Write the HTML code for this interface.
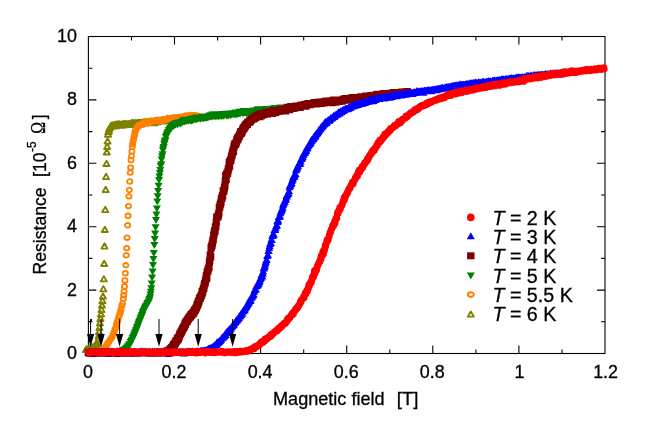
<!DOCTYPE html>
<html><head><meta charset="utf-8"><title>R(B)</title>
<style>html,body{margin:0;padding:0;background:#fff}svg{display:block}</style></head>
<body>
<svg width="651" height="436" viewBox="0 0 651 436" style="will-change:transform">
<rect width="651" height="436" fill="#fff"/>
<g stroke="#000" stroke-width="1.1" fill="none">
<rect x="88.4" y="36.5" width="516.6" height="317"/>
<path d="M131.5 353.5v-4M131.5 36.5v4M174.5 353.5v-8M174.5 36.5v8M217.6 353.5v-4M217.6 36.5v4M260.6 353.5v-8M260.6 36.5v8M303.7 353.5v-4M303.7 36.5v4M346.7 353.5v-8M346.7 36.5v8M389.8 353.5v-4M389.8 36.5v4M432.8 353.5v-8M432.8 36.5v8M475.9 353.5v-4M475.9 36.5v4M518.9 353.5v-8M518.9 36.5v8M562 353.5v-4M562 36.5v4M88.4 321.8h4M605 321.8h-4M88.4 290.1h8M605 290.1h-8M88.4 258.4h4M605 258.4h-4M88.4 226.7h8M605 226.7h-8M88.4 195h4M605 195h-4M88.4 163.3h8M605 163.3h-8M88.4 131.6h4M605 131.6h-4M88.4 99.9h8M605 99.9h-8M88.4 68.2h4M605 68.2h-4"/>
</g>
<path d="M86 346.7l3 5.3h-6.1zM86.4 346.5l3 5.3h-6.1zM86.9 346.4l3 5.3h-6.1zM87.3 346.4l3 5.3h-6.1zM87.7 346.2l3 5.3h-6.1zM88.2 346l3 5.3h-6.1zM88.6 345.6l3 5.3h-6.1zM89 345.8l3 5.3h-6.1zM89.4 345.4l3 5.3h-6.1zM89.9 345.7l3 5.3h-6.1zM90.3 345l3 5.3h-6.1zM90.7 345.1l3 5.3h-6.1zM91.2 345l3 5.3h-6.1zM91.6 344.5l3 5.3h-6.1zM92 345l3 5.3h-6.1zM92.5 344.8l3 5.3h-6.1zM92.9 344.2l3 5.3h-6.1zM93.3 344.3l3 5.3h-6.1zM93.7 344l3 5.3h-6.1zM94.2 343.2l3 5.3h-6.1zM94.6 343.5l3 5.3h-6.1zM95 343.2l3 5.3h-6.1zM95.5 343.1l3 5.3h-6.1zM95.9 342.6l3 5.3h-6.1zM96.3 342.5l3 5.3h-6.1zM96.8 342.2l3 5.3h-6.1zM97.2 342.1l3 5.3h-6.1zM97.5 340.7l3 5.3h-6.1zM98 337.3l3 5.3h-6.1zM98.5 333.3l3 5.3h-6.1zM99 328.9l3 5.3h-6.1zM99.5 324.6l3 5.3h-6.1zM100 320.1l3 5.3h-6.1zM100.5 315.7l3 5.3h-6.1zM101 311.2l3 5.3h-6.1zM101.5 306.8l3 5.3h-6.1zM102 302.4l3 5.3h-6.1zM102.5 297.9l3 5.3h-6.1zM103 293.4l3 5.3h-6.1zM103.4 286.1l3 5.3h-6.1zM103.8 276.1l3 5.3h-6.1zM104.2 260.7l3 5.3h-6.1zM104.5 243.3l3 5.3h-6.1zM104.9 226.7l3 5.3h-6.1zM105.3 206.8l3 5.3h-6.1zM105.7 186.8l3 5.3h-6.1zM106.1 173.8l3 5.3h-6.1zM106.5 160.7l3 5.3h-6.1zM106.8 149.2l3 5.3h-6.1zM107.2 143.7l3 5.3h-6.1zM107.6 138.3l3 5.3h-6.1zM108 131.5l3 5.3h-6.1zM108.4 129l3 5.3h-6.1zM108.8 127.8l3 5.3h-6.1zM109.2 126l3 5.3h-6.1zM109.7 125l3 5.3h-6.1zM110.1 124.4l3 5.3h-6.1zM110.5 124l3 5.3h-6.1zM111 122.8l3 5.3h-6.1zM111.4 123.2l3 5.3h-6.1zM111.8 122.6l3 5.3h-6.1zM112.3 123.3l3 5.3h-6.1zM112.7 122.3l3 5.3h-6.1zM113.1 122.8l3 5.3h-6.1zM113.6 123.2l3 5.3h-6.1zM114 122.2l3 5.3h-6.1zM114.4 121.9l3 5.3h-6.1zM114.8 122.2l3 5.3h-6.1zM115.3 122.1l3 5.3h-6.1zM115.7 121.5l3 5.3h-6.1zM116.1 122.2l3 5.3h-6.1zM116.6 122.9l3 5.3h-6.1zM117 121.7l3 5.3h-6.1zM117.4 121.7l3 5.3h-6.1zM117.9 121.3l3 5.3h-6.1zM118.3 121.9l3 5.3h-6.1zM118.7 121.1l3 5.3h-6.1zM119.2 121.2l3 5.3h-6.1zM119.6 122.3l3 5.3h-6.1zM120 121.2l3 5.3h-6.1zM120.4 122.2l3 5.3h-6.1zM120.9 122.3l3 5.3h-6.1zM121.3 121.7l3 5.3h-6.1zM121.7 121.8l3 5.3h-6.1zM122.2 122.5l3 5.3h-6.1zM122.6 121.4l3 5.3h-6.1zM123 121.2l3 5.3h-6.1zM123.5 120.8l3 5.3h-6.1zM123.9 121.4l3 5.3h-6.1zM124.3 122.1l3 5.3h-6.1zM124.7 121.8l3 5.3h-6.1zM125.2 120.9l3 5.3h-6.1zM125.6 120.9l3 5.3h-6.1zM126 121l3 5.3h-6.1zM126.5 121.4l3 5.3h-6.1zM126.9 121.1l3 5.3h-6.1zM127.3 121.3l3 5.3h-6.1zM127.8 121.3l3 5.3h-6.1zM128.2 121l3 5.3h-6.1zM128.6 121.1l3 5.3h-6.1zM129.1 121.1l3 5.3h-6.1zM129.5 121l3 5.3h-6.1zM129.9 121.2l3 5.3h-6.1zM130.3 121.8l3 5.3h-6.1zM130.8 121.2l3 5.3h-6.1zM131.2 120.9l3 5.3h-6.1zM131.6 120l3 5.3h-6.1zM132.1 121l3 5.3h-6.1zM132.5 119.8l3 5.3h-6.1zM132.9 120l3 5.3h-6.1zM133.4 121.1l3 5.3h-6.1zM133.8 121l3 5.3h-6.1zM134.2 120.6l3 5.3h-6.1zM134.7 119.8l3 5.3h-6.1zM135.1 120.4l3 5.3h-6.1zM135.5 120.2l3 5.3h-6.1zM135.9 120.8l3 5.3h-6.1zM136.4 121.6l3 5.3h-6.1zM136.8 120.5l3 5.3h-6.1zM137.2 120l3 5.3h-6.1zM137.7 119.8l3 5.3h-6.1zM138.1 120.3l3 5.3h-6.1zM138.5 120.2l3 5.3h-6.1zM139 119.7l3 5.3h-6.1zM139.4 120.3l3 5.3h-6.1zM139.8 119.6l3 5.3h-6.1zM140.2 120.7l3 5.3h-6.1zM140.7 120.6l3 5.3h-6.1zM141.1 120.6l3 5.3h-6.1zM141.5 119.8l3 5.3h-6.1zM142 120.3l3 5.3h-6.1zM142.4 119.9l3 5.3h-6.1zM142.8 119.7l3 5.3h-6.1zM143.3 119.7l3 5.3h-6.1zM143.7 119.2l3 5.3h-6.1zM144.1 119.1l3 5.3h-6.1zM144.6 120.2l3 5.3h-6.1zM145 119.6l3 5.3h-6.1zM145.4 119.8l3 5.3h-6.1zM145.8 120.2l3 5.3h-6.1zM146.3 118.8l3 5.3h-6.1zM146.7 119.2l3 5.3h-6.1zM147.1 119.6l3 5.3h-6.1zM147.6 119.7l3 5.3h-6.1zM148 119.3l3 5.3h-6.1zM148.4 119.9l3 5.3h-6.1zM148.9 119.5l3 5.3h-6.1zM149.3 118.7l3 5.3h-6.1zM149.7 118.8l3 5.3h-6.1zM150.2 119.7l3 5.3h-6.1zM150.6 119.4l3 5.3h-6.1zM151 118.2l3 5.3h-6.1zM151.4 119.8l3 5.3h-6.1zM151.9 119.4l3 5.3h-6.1zM152.3 119.7l3 5.3h-6.1zM152.7 118.8l3 5.3h-6.1zM153.2 118.8l3 5.3h-6.1zM153.6 118.4l3 5.3h-6.1zM154 120.1l3 5.3h-6.1zM154.5 118.7l3 5.3h-6.1zM154.9 119.6l3 5.3h-6.1zM155.3 118.4l3 5.3h-6.1zM155.7 118.8l3 5.3h-6.1zM156.2 117.8l3 5.3h-6.1zM156.6 118.4l3 5.3h-6.1zM157 119l3 5.3h-6.1zM157.5 117.9l3 5.3h-6.1zM157.9 119l3 5.3h-6.1zM158.3 118.6l3 5.3h-6.1zM158.8 117.9l3 5.3h-6.1zM159.2 118.1l3 5.3h-6.1zM159.6 118l3 5.3h-6.1zM160.1 118.2l3 5.3h-6.1zM160.5 117.9l3 5.3h-6.1zM160.9 117.7l3 5.3h-6.1zM161.3 117.9l3 5.3h-6.1zM161.8 117.5l3 5.3h-6.1zM162.2 117.4l3 5.3h-6.1zM162.6 117.9l3 5.3h-6.1zM163.1 118.3l3 5.3h-6.1zM163.5 117.1l3 5.3h-6.1zM163.9 117.8l3 5.3h-6.1zM164.4 117.4l3 5.3h-6.1zM164.8 117.2l3 5.3h-6.1zM165.2 118.1l3 5.3h-6.1zM165.7 117.4l3 5.3h-6.1zM166.1 118.3l3 5.3h-6.1zM166.5 117.1l3 5.3h-6.1zM166.9 117.7l3 5.3h-6.1zM167.4 117.3l3 5.3h-6.1zM167.8 117l3 5.3h-6.1zM168.2 117.6l3 5.3h-6.1zM168.7 117.2l3 5.3h-6.1zM169.1 117.5l3 5.3h-6.1zM169.5 117.2l3 5.3h-6.1zM170 116.6l3 5.3h-6.1zM170.4 117.1l3 5.3h-6.1zM170.8 117.1l3 5.3h-6.1zM171.2 117.5l3 5.3h-6.1zM171.7 116.5l3 5.3h-6.1zM172.1 116.9l3 5.3h-6.1zM172.5 116l3 5.3h-6.1zM173 117.2l3 5.3h-6.1zM173.4 116.2l3 5.3h-6.1zM173.8 115.8l3 5.3h-6.1zM174.3 116.7l3 5.3h-6.1zM174.7 117.2l3 5.3h-6.1zM175.1 115.8l3 5.3h-6.1zM175.6 116l3 5.3h-6.1zM176 116.1l3 5.3h-6.1zM176.4 115.9l3 5.3h-6.1zM176.8 116.6l3 5.3h-6.1zM177.3 116l3 5.3h-6.1zM177.7 116l3 5.3h-6.1zM178.1 116.6l3 5.3h-6.1zM178.6 115.8l3 5.3h-6.1zM179 116.4l3 5.3h-6.1zM179.4 115.6l3 5.3h-6.1zM179.9 115.5l3 5.3h-6.1zM180.3 115.1l3 5.3h-6.1zM180.7 116.9l3 5.3h-6.1zM181.1 115.8l3 5.3h-6.1zM181.6 116l3 5.3h-6.1zM182 115.8l3 5.3h-6.1zM182.4 115.9l3 5.3h-6.1zM182.9 115.8l3 5.3h-6.1zM183.3 116.6l3 5.3h-6.1zM183.7 115.1l3 5.3h-6.1zM184.2 114.8l3 5.3h-6.1zM184.6 115.1l3 5.3h-6.1zM185 114.8l3 5.3h-6.1zM185.5 115.8l3 5.3h-6.1zM185.9 115.8l3 5.3h-6.1zM186.3 114.9l3 5.3h-6.1zM186.7 114.6l3 5.3h-6.1zM187.2 115.1l3 5.3h-6.1zM187.6 115.9l3 5.3h-6.1zM188 113.8l3 5.3h-6.1zM188.5 115.4l3 5.3h-6.1zM188.9 114.5l3 5.3h-6.1zM189.3 115.5l3 5.3h-6.1zM189.8 114.4l3 5.3h-6.1zM190.2 114.8l3 5.3h-6.1zM190.6 114.1l3 5.3h-6.1zM191.1 114.3l3 5.3h-6.1zM191.5 115.5l3 5.3h-6.1zM191.9 115.1l3 5.3h-6.1zM192.3 114.5l3 5.3h-6.1zM192.8 114.2l3 5.3h-6.1zM193.2 113.6l3 5.3h-6.1zM193.6 114.3l3 5.3h-6.1zM194.1 114.5l3 5.3h-6.1zM194.5 114.4l3 5.3h-6.1zM194.9 114.3l3 5.3h-6.1zM195.4 113.8l3 5.3h-6.1zM195.8 114.3l3 5.3h-6.1zM196.2 114.2l3 5.3h-6.1zM196.6 114.8l3 5.3h-6.1z" fill="none" stroke="#808000" stroke-width="1.85" stroke-linejoin="round"/>
<path d="M85.8 352.2a2.6 2.3 0 1 0 5.2 0a2.6 2.3 0 1 0 -5.2 0M86.2 352.2a2.6 2.3 0 1 0 5.2 0a2.6 2.3 0 1 0 -5.2 0M86.7 352.1a2.6 2.3 0 1 0 5.2 0a2.6 2.3 0 1 0 -5.2 0M87.1 352.2a2.6 2.3 0 1 0 5.2 0a2.6 2.3 0 1 0 -5.2 0M87.5 352a2.6 2.3 0 1 0 5.2 0a2.6 2.3 0 1 0 -5.2 0M88 352.1a2.6 2.3 0 1 0 5.2 0a2.6 2.3 0 1 0 -5.2 0M88.4 352.5a2.6 2.3 0 1 0 5.2 0a2.6 2.3 0 1 0 -5.2 0M88.8 352.2a2.6 2.3 0 1 0 5.2 0a2.6 2.3 0 1 0 -5.2 0M89.2 352.2a2.6 2.3 0 1 0 5.2 0a2.6 2.3 0 1 0 -5.2 0M89.7 352.3a2.6 2.3 0 1 0 5.2 0a2.6 2.3 0 1 0 -5.2 0M90.1 352.3a2.6 2.3 0 1 0 5.2 0a2.6 2.3 0 1 0 -5.2 0M90.5 352a2.6 2.3 0 1 0 5.2 0a2.6 2.3 0 1 0 -5.2 0M91 352.2a2.6 2.3 0 1 0 5.2 0a2.6 2.3 0 1 0 -5.2 0M91.4 352.3a2.6 2.3 0 1 0 5.2 0a2.6 2.3 0 1 0 -5.2 0M91.8 352.2a2.6 2.3 0 1 0 5.2 0a2.6 2.3 0 1 0 -5.2 0M92.3 352.2a2.6 2.3 0 1 0 5.2 0a2.6 2.3 0 1 0 -5.2 0M92.7 352.4a2.6 2.3 0 1 0 5.2 0a2.6 2.3 0 1 0 -5.2 0M93.1 352.1a2.6 2.3 0 1 0 5.2 0a2.6 2.3 0 1 0 -5.2 0M93.5 352.2a2.6 2.3 0 1 0 5.2 0a2.6 2.3 0 1 0 -5.2 0M94 352.1a2.6 2.3 0 1 0 5.2 0a2.6 2.3 0 1 0 -5.2 0M94.4 352.4a2.6 2.3 0 1 0 5.2 0a2.6 2.3 0 1 0 -5.2 0M94.8 351.9a2.6 2.3 0 1 0 5.2 0a2.6 2.3 0 1 0 -5.2 0M95.3 352.1a2.6 2.3 0 1 0 5.2 0a2.6 2.3 0 1 0 -5.2 0M95.7 352.1a2.6 2.3 0 1 0 5.2 0a2.6 2.3 0 1 0 -5.2 0M96.1 352.2a2.6 2.3 0 1 0 5.2 0a2.6 2.3 0 1 0 -5.2 0M96.6 352.1a2.6 2.3 0 1 0 5.2 0a2.6 2.3 0 1 0 -5.2 0M97 352a2.6 2.3 0 1 0 5.2 0a2.6 2.3 0 1 0 -5.2 0M97.4 351.3a2.6 2.3 0 1 0 5.2 0a2.6 2.3 0 1 0 -5.2 0M97.9 351.4a2.6 2.3 0 1 0 5.2 0a2.6 2.3 0 1 0 -5.2 0M98.3 351a2.6 2.3 0 1 0 5.2 0a2.6 2.3 0 1 0 -5.2 0M98.4 350.8a2.6 2.3 0 1 0 5.2 0a2.6 2.3 0 1 0 -5.2 0M99 350.6a2.6 2.3 0 1 0 5.2 0a2.6 2.3 0 1 0 -5.2 0M99.5 349.9a2.6 2.3 0 1 0 5.2 0a2.6 2.3 0 1 0 -5.2 0M100 349.2a2.6 2.3 0 1 0 5.2 0a2.6 2.3 0 1 0 -5.2 0M100.6 349a2.6 2.3 0 1 0 5.2 0a2.6 2.3 0 1 0 -5.2 0M101.1 348.3a2.6 2.3 0 1 0 5.2 0a2.6 2.3 0 1 0 -5.2 0M101.7 347.9a2.6 2.3 0 1 0 5.2 0a2.6 2.3 0 1 0 -5.2 0M102.2 347.5a2.6 2.3 0 1 0 5.2 0a2.6 2.3 0 1 0 -5.2 0M102.8 346.8a2.6 2.3 0 1 0 5.2 0a2.6 2.3 0 1 0 -5.2 0M103.3 346.4a2.6 2.3 0 1 0 5.2 0a2.6 2.3 0 1 0 -5.2 0M103.9 345.2a2.6 2.3 0 1 0 5.2 0a2.6 2.3 0 1 0 -5.2 0M104.4 344.3a2.6 2.3 0 1 0 5.2 0a2.6 2.3 0 1 0 -5.2 0M105 343.6a2.6 2.3 0 1 0 5.2 0a2.6 2.3 0 1 0 -5.2 0M105.5 342.8a2.6 2.3 0 1 0 5.2 0a2.6 2.3 0 1 0 -5.2 0M106.1 342a2.6 2.3 0 1 0 5.2 0a2.6 2.3 0 1 0 -5.2 0M106.4 341.8a2.6 2.3 0 1 0 5.2 0a2.6 2.3 0 1 0 -5.2 0M107.2 340.5a2.6 2.3 0 1 0 5.2 0a2.6 2.3 0 1 0 -5.2 0M107.9 339a2.6 2.3 0 1 0 5.2 0a2.6 2.3 0 1 0 -5.2 0M108.7 338.2a2.6 2.3 0 1 0 5.2 0a2.6 2.3 0 1 0 -5.2 0M109.4 336.9a2.6 2.3 0 1 0 5.2 0a2.6 2.3 0 1 0 -5.2 0M110.2 335.3a2.6 2.3 0 1 0 5.2 0a2.6 2.3 0 1 0 -5.2 0M110.9 333.5a2.6 2.3 0 1 0 5.2 0a2.6 2.3 0 1 0 -5.2 0M111.7 331.5a2.6 2.3 0 1 0 5.2 0a2.6 2.3 0 1 0 -5.2 0M112.4 329.2a2.6 2.3 0 1 0 5.2 0a2.6 2.3 0 1 0 -5.2 0M113.2 327.2a2.6 2.3 0 1 0 5.2 0a2.6 2.3 0 1 0 -5.2 0M113.9 324.2a2.6 2.3 0 1 0 5.2 0a2.6 2.3 0 1 0 -5.2 0M114.7 321.9a2.6 2.3 0 1 0 5.2 0a2.6 2.3 0 1 0 -5.2 0M115.4 319.8a2.6 2.3 0 1 0 5.2 0a2.6 2.3 0 1 0 -5.2 0M116.2 316.8a2.6 2.3 0 1 0 5.2 0a2.6 2.3 0 1 0 -5.2 0M116.9 315a2.6 2.3 0 1 0 5.2 0a2.6 2.3 0 1 0 -5.2 0M117.7 312.5a2.6 2.3 0 1 0 5.2 0a2.6 2.3 0 1 0 -5.2 0M118.4 309.7a2.6 2.3 0 1 0 5.2 0a2.6 2.3 0 1 0 -5.2 0M119.2 306a2.6 2.3 0 1 0 5.2 0a2.6 2.3 0 1 0 -5.2 0M119.9 303.5a2.6 2.3 0 1 0 5.2 0a2.6 2.3 0 1 0 -5.2 0M120.7 298.7a2.6 2.3 0 1 0 5.2 0a2.6 2.3 0 1 0 -5.2 0M121.1 295.3a2.6 2.3 0 1 0 5.2 0a2.6 2.3 0 1 0 -5.2 0M121.5 291.4a2.6 2.3 0 1 0 5.2 0a2.6 2.3 0 1 0 -5.2 0M121.9 286.5a2.6 2.3 0 1 0 5.2 0a2.6 2.3 0 1 0 -5.2 0M122.3 280.4a2.6 2.3 0 1 0 5.2 0a2.6 2.3 0 1 0 -5.2 0M122.7 273.3a2.6 2.3 0 1 0 5.2 0a2.6 2.3 0 1 0 -5.2 0M123.2 265.3a2.6 2.3 0 1 0 5.2 0a2.6 2.3 0 1 0 -5.2 0M123.6 255.3a2.6 2.3 0 1 0 5.2 0a2.6 2.3 0 1 0 -5.2 0M124.1 248.1a2.6 2.3 0 1 0 5.2 0a2.6 2.3 0 1 0 -5.2 0M124.5 237.7a2.6 2.3 0 1 0 5.2 0a2.6 2.3 0 1 0 -5.2 0M125 225.3a2.6 2.3 0 1 0 5.2 0a2.6 2.3 0 1 0 -5.2 0M125.4 215.8a2.6 2.3 0 1 0 5.2 0a2.6 2.3 0 1 0 -5.2 0M125.8 206.1a2.6 2.3 0 1 0 5.2 0a2.6 2.3 0 1 0 -5.2 0M126.3 196.4a2.6 2.3 0 1 0 5.2 0a2.6 2.3 0 1 0 -5.2 0M126.7 190a2.6 2.3 0 1 0 5.2 0a2.6 2.3 0 1 0 -5.2 0M127.1 181.5a2.6 2.3 0 1 0 5.2 0a2.6 2.3 0 1 0 -5.2 0M127.6 172.6a2.6 2.3 0 1 0 5.2 0a2.6 2.3 0 1 0 -5.2 0M128 167.6a2.6 2.3 0 1 0 5.2 0a2.6 2.3 0 1 0 -5.2 0M128.4 160a2.6 2.3 0 1 0 5.2 0a2.6 2.3 0 1 0 -5.2 0M128.9 156a2.6 2.3 0 1 0 5.2 0a2.6 2.3 0 1 0 -5.2 0M129.3 151.5a2.6 2.3 0 1 0 5.2 0a2.6 2.3 0 1 0 -5.2 0M129.7 146.9a2.6 2.3 0 1 0 5.2 0a2.6 2.3 0 1 0 -5.2 0M130 144a2.6 2.3 0 1 0 5.2 0a2.6 2.3 0 1 0 -5.2 0M130.5 141.1a2.6 2.3 0 1 0 5.2 0a2.6 2.3 0 1 0 -5.2 0M130.9 139.8a2.6 2.3 0 1 0 5.2 0a2.6 2.3 0 1 0 -5.2 0M131.3 137.5a2.6 2.3 0 1 0 5.2 0a2.6 2.3 0 1 0 -5.2 0M131.8 135.4a2.6 2.3 0 1 0 5.2 0a2.6 2.3 0 1 0 -5.2 0M132.2 133.5a2.6 2.3 0 1 0 5.2 0a2.6 2.3 0 1 0 -5.2 0M132.6 131.2a2.6 2.3 0 1 0 5.2 0a2.6 2.3 0 1 0 -5.2 0M133.1 130.2a2.6 2.3 0 1 0 5.2 0a2.6 2.3 0 1 0 -5.2 0M133.5 129.5a2.6 2.3 0 1 0 5.2 0a2.6 2.3 0 1 0 -5.2 0M133.9 128.6a2.6 2.3 0 1 0 5.2 0a2.6 2.3 0 1 0 -5.2 0M134.3 127.7a2.6 2.3 0 1 0 5.2 0a2.6 2.3 0 1 0 -5.2 0M134.8 126.7a2.6 2.3 0 1 0 5.2 0a2.6 2.3 0 1 0 -5.2 0M135.2 126.9a2.6 2.3 0 1 0 5.2 0a2.6 2.3 0 1 0 -5.2 0M135.6 126a2.6 2.3 0 1 0 5.2 0a2.6 2.3 0 1 0 -5.2 0M136.1 125.2a2.6 2.3 0 1 0 5.2 0a2.6 2.3 0 1 0 -5.2 0M136.5 125a2.6 2.3 0 1 0 5.2 0a2.6 2.3 0 1 0 -5.2 0M136.9 125.8a2.6 2.3 0 1 0 5.2 0a2.6 2.3 0 1 0 -5.2 0M137.4 124.9a2.6 2.3 0 1 0 5.2 0a2.6 2.3 0 1 0 -5.2 0M137.8 125.1a2.6 2.3 0 1 0 5.2 0a2.6 2.3 0 1 0 -5.2 0M138.2 124.1a2.6 2.3 0 1 0 5.2 0a2.6 2.3 0 1 0 -5.2 0M138.7 124.6a2.6 2.3 0 1 0 5.2 0a2.6 2.3 0 1 0 -5.2 0M139.1 123.6a2.6 2.3 0 1 0 5.2 0a2.6 2.3 0 1 0 -5.2 0M139.5 123.6a2.6 2.3 0 1 0 5.2 0a2.6 2.3 0 1 0 -5.2 0M139.9 124.8a2.6 2.3 0 1 0 5.2 0a2.6 2.3 0 1 0 -5.2 0M140.4 123.7a2.6 2.3 0 1 0 5.2 0a2.6 2.3 0 1 0 -5.2 0M140.8 122.9a2.6 2.3 0 1 0 5.2 0a2.6 2.3 0 1 0 -5.2 0M141.2 123a2.6 2.3 0 1 0 5.2 0a2.6 2.3 0 1 0 -5.2 0M141.7 123a2.6 2.3 0 1 0 5.2 0a2.6 2.3 0 1 0 -5.2 0M142.1 123.4a2.6 2.3 0 1 0 5.2 0a2.6 2.3 0 1 0 -5.2 0M142.5 122.4a2.6 2.3 0 1 0 5.2 0a2.6 2.3 0 1 0 -5.2 0M143 121.6a2.6 2.3 0 1 0 5.2 0a2.6 2.3 0 1 0 -5.2 0M143.4 122.2a2.6 2.3 0 1 0 5.2 0a2.6 2.3 0 1 0 -5.2 0M143.8 122.3a2.6 2.3 0 1 0 5.2 0a2.6 2.3 0 1 0 -5.2 0M144.2 122.3a2.6 2.3 0 1 0 5.2 0a2.6 2.3 0 1 0 -5.2 0M144.7 122.8a2.6 2.3 0 1 0 5.2 0a2.6 2.3 0 1 0 -5.2 0M145.1 122.2a2.6 2.3 0 1 0 5.2 0a2.6 2.3 0 1 0 -5.2 0M145.5 122.3a2.6 2.3 0 1 0 5.2 0a2.6 2.3 0 1 0 -5.2 0M146 121.3a2.6 2.3 0 1 0 5.2 0a2.6 2.3 0 1 0 -5.2 0M146.4 122.2a2.6 2.3 0 1 0 5.2 0a2.6 2.3 0 1 0 -5.2 0M146.8 122.8a2.6 2.3 0 1 0 5.2 0a2.6 2.3 0 1 0 -5.2 0M147.3 122a2.6 2.3 0 1 0 5.2 0a2.6 2.3 0 1 0 -5.2 0M147.7 121.7a2.6 2.3 0 1 0 5.2 0a2.6 2.3 0 1 0 -5.2 0M148.1 121.6a2.6 2.3 0 1 0 5.2 0a2.6 2.3 0 1 0 -5.2 0M148.6 122.3a2.6 2.3 0 1 0 5.2 0a2.6 2.3 0 1 0 -5.2 0M149 120.9a2.6 2.3 0 1 0 5.2 0a2.6 2.3 0 1 0 -5.2 0M149.4 121.2a2.6 2.3 0 1 0 5.2 0a2.6 2.3 0 1 0 -5.2 0M149.8 121.5a2.6 2.3 0 1 0 5.2 0a2.6 2.3 0 1 0 -5.2 0M150.3 121.5a2.6 2.3 0 1 0 5.2 0a2.6 2.3 0 1 0 -5.2 0M150.7 120.9a2.6 2.3 0 1 0 5.2 0a2.6 2.3 0 1 0 -5.2 0M151.1 121.2a2.6 2.3 0 1 0 5.2 0a2.6 2.3 0 1 0 -5.2 0M151.6 120.8a2.6 2.3 0 1 0 5.2 0a2.6 2.3 0 1 0 -5.2 0M152 121a2.6 2.3 0 1 0 5.2 0a2.6 2.3 0 1 0 -5.2 0M152.4 120.8a2.6 2.3 0 1 0 5.2 0a2.6 2.3 0 1 0 -5.2 0M152.9 120.2a2.6 2.3 0 1 0 5.2 0a2.6 2.3 0 1 0 -5.2 0M153.3 120.8a2.6 2.3 0 1 0 5.2 0a2.6 2.3 0 1 0 -5.2 0M153.7 121.2a2.6 2.3 0 1 0 5.2 0a2.6 2.3 0 1 0 -5.2 0M154.2 120.2a2.6 2.3 0 1 0 5.2 0a2.6 2.3 0 1 0 -5.2 0M154.6 120.5a2.6 2.3 0 1 0 5.2 0a2.6 2.3 0 1 0 -5.2 0M155 120.9a2.6 2.3 0 1 0 5.2 0a2.6 2.3 0 1 0 -5.2 0M155.4 120a2.6 2.3 0 1 0 5.2 0a2.6 2.3 0 1 0 -5.2 0M155.9 120.5a2.6 2.3 0 1 0 5.2 0a2.6 2.3 0 1 0 -5.2 0M156.3 119.8a2.6 2.3 0 1 0 5.2 0a2.6 2.3 0 1 0 -5.2 0M156.7 120.9a2.6 2.3 0 1 0 5.2 0a2.6 2.3 0 1 0 -5.2 0M157.2 121.5a2.6 2.3 0 1 0 5.2 0a2.6 2.3 0 1 0 -5.2 0M157.6 121.3a2.6 2.3 0 1 0 5.2 0a2.6 2.3 0 1 0 -5.2 0M158 120.1a2.6 2.3 0 1 0 5.2 0a2.6 2.3 0 1 0 -5.2 0M158.5 120.5a2.6 2.3 0 1 0 5.2 0a2.6 2.3 0 1 0 -5.2 0M158.9 120.1a2.6 2.3 0 1 0 5.2 0a2.6 2.3 0 1 0 -5.2 0M159.3 120a2.6 2.3 0 1 0 5.2 0a2.6 2.3 0 1 0 -5.2 0M159.7 120.7a2.6 2.3 0 1 0 5.2 0a2.6 2.3 0 1 0 -5.2 0M160.2 119.2a2.6 2.3 0 1 0 5.2 0a2.6 2.3 0 1 0 -5.2 0M160.6 120.3a2.6 2.3 0 1 0 5.2 0a2.6 2.3 0 1 0 -5.2 0M161 119.7a2.6 2.3 0 1 0 5.2 0a2.6 2.3 0 1 0 -5.2 0M161.5 120.4a2.6 2.3 0 1 0 5.2 0a2.6 2.3 0 1 0 -5.2 0M161.9 119.7a2.6 2.3 0 1 0 5.2 0a2.6 2.3 0 1 0 -5.2 0M162.3 119.2a2.6 2.3 0 1 0 5.2 0a2.6 2.3 0 1 0 -5.2 0M162.8 119.6a2.6 2.3 0 1 0 5.2 0a2.6 2.3 0 1 0 -5.2 0M163.2 119.8a2.6 2.3 0 1 0 5.2 0a2.6 2.3 0 1 0 -5.2 0M163.6 119.3a2.6 2.3 0 1 0 5.2 0a2.6 2.3 0 1 0 -5.2 0M164.1 119.5a2.6 2.3 0 1 0 5.2 0a2.6 2.3 0 1 0 -5.2 0M164.5 118.9a2.6 2.3 0 1 0 5.2 0a2.6 2.3 0 1 0 -5.2 0M164.9 118a2.6 2.3 0 1 0 5.2 0a2.6 2.3 0 1 0 -5.2 0M165.3 119.5a2.6 2.3 0 1 0 5.2 0a2.6 2.3 0 1 0 -5.2 0M165.8 119.3a2.6 2.3 0 1 0 5.2 0a2.6 2.3 0 1 0 -5.2 0M166.2 119a2.6 2.3 0 1 0 5.2 0a2.6 2.3 0 1 0 -5.2 0M166.6 118.9a2.6 2.3 0 1 0 5.2 0a2.6 2.3 0 1 0 -5.2 0M167.1 119.3a2.6 2.3 0 1 0 5.2 0a2.6 2.3 0 1 0 -5.2 0M167.5 118.5a2.6 2.3 0 1 0 5.2 0a2.6 2.3 0 1 0 -5.2 0M167.9 118.3a2.6 2.3 0 1 0 5.2 0a2.6 2.3 0 1 0 -5.2 0M168.4 118.5a2.6 2.3 0 1 0 5.2 0a2.6 2.3 0 1 0 -5.2 0M168.8 119.1a2.6 2.3 0 1 0 5.2 0a2.6 2.3 0 1 0 -5.2 0M169.2 117.7a2.6 2.3 0 1 0 5.2 0a2.6 2.3 0 1 0 -5.2 0M169.7 119a2.6 2.3 0 1 0 5.2 0a2.6 2.3 0 1 0 -5.2 0M170.1 117.9a2.6 2.3 0 1 0 5.2 0a2.6 2.3 0 1 0 -5.2 0M170.5 117.6a2.6 2.3 0 1 0 5.2 0a2.6 2.3 0 1 0 -5.2 0M170.9 118.8a2.6 2.3 0 1 0 5.2 0a2.6 2.3 0 1 0 -5.2 0M171.4 118a2.6 2.3 0 1 0 5.2 0a2.6 2.3 0 1 0 -5.2 0M171.8 117.3a2.6 2.3 0 1 0 5.2 0a2.6 2.3 0 1 0 -5.2 0M172.2 117.8a2.6 2.3 0 1 0 5.2 0a2.6 2.3 0 1 0 -5.2 0M172.7 118.4a2.6 2.3 0 1 0 5.2 0a2.6 2.3 0 1 0 -5.2 0M173.1 118.4a2.6 2.3 0 1 0 5.2 0a2.6 2.3 0 1 0 -5.2 0M173.5 117.5a2.6 2.3 0 1 0 5.2 0a2.6 2.3 0 1 0 -5.2 0M174 117.9a2.6 2.3 0 1 0 5.2 0a2.6 2.3 0 1 0 -5.2 0M174.4 118a2.6 2.3 0 1 0 5.2 0a2.6 2.3 0 1 0 -5.2 0M174.8 117.2a2.6 2.3 0 1 0 5.2 0a2.6 2.3 0 1 0 -5.2 0M175.2 117.7a2.6 2.3 0 1 0 5.2 0a2.6 2.3 0 1 0 -5.2 0M175.7 117.4a2.6 2.3 0 1 0 5.2 0a2.6 2.3 0 1 0 -5.2 0M176.1 117.1a2.6 2.3 0 1 0 5.2 0a2.6 2.3 0 1 0 -5.2 0M176.5 117.1a2.6 2.3 0 1 0 5.2 0a2.6 2.3 0 1 0 -5.2 0M177 117.3a2.6 2.3 0 1 0 5.2 0a2.6 2.3 0 1 0 -5.2 0M177.4 117.2a2.6 2.3 0 1 0 5.2 0a2.6 2.3 0 1 0 -5.2 0M177.8 116.8a2.6 2.3 0 1 0 5.2 0a2.6 2.3 0 1 0 -5.2 0M178.3 116.9a2.6 2.3 0 1 0 5.2 0a2.6 2.3 0 1 0 -5.2 0M178.7 117.6a2.6 2.3 0 1 0 5.2 0a2.6 2.3 0 1 0 -5.2 0M179.1 117.1a2.6 2.3 0 1 0 5.2 0a2.6 2.3 0 1 0 -5.2 0M179.6 117.4a2.6 2.3 0 1 0 5.2 0a2.6 2.3 0 1 0 -5.2 0M180 117.5a2.6 2.3 0 1 0 5.2 0a2.6 2.3 0 1 0 -5.2 0M180.4 117.1a2.6 2.3 0 1 0 5.2 0a2.6 2.3 0 1 0 -5.2 0M180.8 117.9a2.6 2.3 0 1 0 5.2 0a2.6 2.3 0 1 0 -5.2 0M181.3 116.3a2.6 2.3 0 1 0 5.2 0a2.6 2.3 0 1 0 -5.2 0M181.7 117.1a2.6 2.3 0 1 0 5.2 0a2.6 2.3 0 1 0 -5.2 0M182.1 116.4a2.6 2.3 0 1 0 5.2 0a2.6 2.3 0 1 0 -5.2 0M182.6 117.5a2.6 2.3 0 1 0 5.2 0a2.6 2.3 0 1 0 -5.2 0M183 117.4a2.6 2.3 0 1 0 5.2 0a2.6 2.3 0 1 0 -5.2 0M183.4 115.4a2.6 2.3 0 1 0 5.2 0a2.6 2.3 0 1 0 -5.2 0M183.9 115.9a2.6 2.3 0 1 0 5.2 0a2.6 2.3 0 1 0 -5.2 0M184.3 116.7a2.6 2.3 0 1 0 5.2 0a2.6 2.3 0 1 0 -5.2 0M184.7 116.8a2.6 2.3 0 1 0 5.2 0a2.6 2.3 0 1 0 -5.2 0M185.2 116.7a2.6 2.3 0 1 0 5.2 0a2.6 2.3 0 1 0 -5.2 0M185.6 116.2a2.6 2.3 0 1 0 5.2 0a2.6 2.3 0 1 0 -5.2 0M186 116.4a2.6 2.3 0 1 0 5.2 0a2.6 2.3 0 1 0 -5.2 0M186.4 116.5a2.6 2.3 0 1 0 5.2 0a2.6 2.3 0 1 0 -5.2 0M186.9 116.1a2.6 2.3 0 1 0 5.2 0a2.6 2.3 0 1 0 -5.2 0M187.3 116.6a2.6 2.3 0 1 0 5.2 0a2.6 2.3 0 1 0 -5.2 0M187.7 114.9a2.6 2.3 0 1 0 5.2 0a2.6 2.3 0 1 0 -5.2 0M188.2 116.3a2.6 2.3 0 1 0 5.2 0a2.6 2.3 0 1 0 -5.2 0M188.6 115.4a2.6 2.3 0 1 0 5.2 0a2.6 2.3 0 1 0 -5.2 0M189 116.4a2.6 2.3 0 1 0 5.2 0a2.6 2.3 0 1 0 -5.2 0M189.5 115.8a2.6 2.3 0 1 0 5.2 0a2.6 2.3 0 1 0 -5.2 0M189.9 115.4a2.6 2.3 0 1 0 5.2 0a2.6 2.3 0 1 0 -5.2 0M190.3 116a2.6 2.3 0 1 0 5.2 0a2.6 2.3 0 1 0 -5.2 0M190.7 115.3a2.6 2.3 0 1 0 5.2 0a2.6 2.3 0 1 0 -5.2 0M191.2 115.3a2.6 2.3 0 1 0 5.2 0a2.6 2.3 0 1 0 -5.2 0M191.6 114.9a2.6 2.3 0 1 0 5.2 0a2.6 2.3 0 1 0 -5.2 0M192 115.7a2.6 2.3 0 1 0 5.2 0a2.6 2.3 0 1 0 -5.2 0M192.5 115.9a2.6 2.3 0 1 0 5.2 0a2.6 2.3 0 1 0 -5.2 0M192.9 116.1a2.6 2.3 0 1 0 5.2 0a2.6 2.3 0 1 0 -5.2 0M193.3 115.5a2.6 2.3 0 1 0 5.2 0a2.6 2.3 0 1 0 -5.2 0M193.8 116.1a2.6 2.3 0 1 0 5.2 0a2.6 2.3 0 1 0 -5.2 0M194.2 115.5a2.6 2.3 0 1 0 5.2 0a2.6 2.3 0 1 0 -5.2 0" fill="none" stroke="#ff8000" stroke-width="1.8"/>
<path d="M88.4 355.6l4 -7h-8zM88.8 355.3l4 -7h-8zM89.3 355.6l4 -7h-8zM89.7 355.3l4 -7h-8zM90.1 355.7l4 -7h-8zM90.6 355.5l4 -7h-8zM91 355.7l4 -7h-8zM91.4 355.8l4 -7h-8zM91.8 355.3l4 -7h-8zM92.3 355.5l4 -7h-8zM92.7 355.5l4 -7h-8zM93.1 355.9l4 -7h-8zM93.6 356.1l4 -7h-8zM94 355.9l4 -7h-8zM94.4 355.6l4 -7h-8zM94.9 356.1l4 -7h-8zM95.3 355.3l4 -7h-8zM95.7 356.1l4 -7h-8zM96.1 355.5l4 -7h-8zM96.6 355l4 -7h-8zM97 356.4l4 -7h-8zM97.4 356.1l4 -7h-8zM97.9 355.4l4 -7h-8zM98.3 355.7l4 -7h-8zM98.7 355.6l4 -7h-8zM99.2 355.7l4 -7h-8zM99.6 355.3l4 -7h-8zM100 355.5l4 -7h-8zM100.5 355.8l4 -7h-8zM100.9 355.8l4 -7h-8zM101.3 356l4 -7h-8zM101.7 355.7l4 -7h-8zM102.2 356.3l4 -7h-8zM102.6 355.5l4 -7h-8zM103 355.8l4 -7h-8zM103.5 355.2l4 -7h-8zM103.9 355.4l4 -7h-8zM104.3 356l4 -7h-8zM104.8 355.5l4 -7h-8zM105.2 355.8l4 -7h-8zM105.6 355.7l4 -7h-8zM106.1 355.4l4 -7h-8zM106.5 355.6l4 -7h-8zM106.9 355.6l4 -7h-8zM107.3 355.6l4 -7h-8zM107.8 355.9l4 -7h-8zM108.2 355.9l4 -7h-8zM108.6 355.6l4 -7h-8zM109.1 355.5l4 -7h-8zM109.5 355.8l4 -7h-8zM109.9 355.7l4 -7h-8zM110.4 356l4 -7h-8zM110.8 356.4l4 -7h-8zM111.2 355.9l4 -7h-8zM111.6 355.7l4 -7h-8zM112.1 355.7l4 -7h-8zM112.5 355.5l4 -7h-8zM112.9 355.5l4 -7h-8zM113.4 355.5l4 -7h-8zM113.8 355.6l4 -7h-8zM114.2 355.6l4 -7h-8zM114.7 355.9l4 -7h-8zM115.1 355.6l4 -7h-8zM115.5 355.7l4 -7h-8zM116 355.4l4 -7h-8zM116.4 356.2l4 -7h-8zM116.8 355.9l4 -7h-8zM117.2 356.2l4 -7h-8zM117.7 356l4 -7h-8zM118.1 356.1l4 -7h-8zM118.5 355.7l4 -7h-8zM119 355.9l4 -7h-8zM119.4 356.3l4 -7h-8zM119.8 355.3l4 -7h-8zM120.3 355.8l4 -7h-8zM120.7 355.9l4 -7h-8zM121.1 355.4l4 -7h-8zM121.6 355.4l4 -7h-8zM122 355.3l4 -7h-8zM122.4 354.7l4 -7h-8zM122.8 354.8l4 -7h-8zM123.3 354.2l4 -7h-8zM123.7 354.1l4 -7h-8zM124.1 354l4 -7h-8zM124.6 353.8l4 -7h-8zM125 353.6l4 -7h-8zM125.4 353.5l4 -7h-8zM125.9 352.7l4 -7h-8zM126.3 353.2l4 -7h-8zM126.7 352.6l4 -7h-8zM127.1 351.9l4 -7h-8zM127.6 351.2l4 -7h-8zM128 350.7l4 -7h-8zM128.4 350.2l4 -7h-8zM128.9 349.5l4 -7h-8zM129.3 348.3l4 -7h-8zM129.7 348.3l4 -7h-8zM130.2 348.2l4 -7h-8zM130.6 346.1l4 -7h-8zM131 346.2l4 -7h-8zM131.5 345.2l4 -7h-8zM131.9 344.2l4 -7h-8zM132.3 343.7l4 -7h-8zM132.7 342.1l4 -7h-8zM133.2 341.6l4 -7h-8zM133.6 341l4 -7h-8zM134 339.5l4 -7h-8zM134.5 338.4l4 -7h-8zM134.9 337.6l4 -7h-8zM135.3 336.2l4 -7h-8zM135.8 335.6l4 -7h-8zM136.2 334l4 -7h-8zM136.6 333.3l4 -7h-8zM137.1 331.4l4 -7h-8zM137.5 331l4 -7h-8zM137.9 329.7l4 -7h-8zM138.3 327.8l4 -7h-8zM138.8 327.5l4 -7h-8zM139.2 326.1l4 -7h-8zM139.6 325.2l4 -7h-8zM140.1 324.6l4 -7h-8zM140.5 322.7l4 -7h-8zM140.9 321.6l4 -7h-8zM141.4 321.3l4 -7h-8zM141.8 319.7l4 -7h-8zM142.2 319.1l4 -7h-8zM142.6 317.6l4 -7h-8zM143.1 316.1l4 -7h-8zM143.5 315.4l4 -7h-8zM143.9 314.8l4 -7h-8zM144.4 313.8l4 -7h-8zM144.8 312.6l4 -7h-8zM145.2 311.9l4 -7h-8zM145.7 311l4 -7h-8zM146.1 310l4 -7h-8zM146.5 310.1l4 -7h-8zM147 308.7l4 -7h-8zM147.4 307.8l4 -7h-8zM147.8 307.3l4 -7h-8zM148.2 306.9l4 -7h-8zM148.7 306l4 -7h-8zM149.1 304.6l4 -7h-8zM149.5 303.1l4 -7h-8zM150 301.3l4 -7h-8zM150.4 298.5l4 -7h-8zM150.8 295.8l4 -7h-8zM151.3 292.3l4 -7h-8zM151.7 287.4l4 -7h-8zM152.1 281.6l4 -7h-8zM152.6 275.5l4 -7h-8zM153 269l4 -7h-8zM153.4 262.9l4 -7h-8zM153.8 257l4 -7h-8zM154.3 249l4 -7h-8zM154.7 242.9l4 -7h-8zM155.1 237.6l4 -7h-8zM155.6 231.2l4 -7h-8zM156 223.9l4 -7h-8zM156.4 218.5l4 -7h-8zM156.9 212.6l4 -7h-8zM157.3 205.5l4 -7h-8zM157.7 200.3l4 -7h-8zM158.1 195l4 -7h-8zM158.6 189.7l4 -7h-8zM159 183.9l4 -7h-8zM159.4 180.6l4 -7h-8zM159.9 177l4 -7h-8zM160.3 174l4 -7h-8zM160.7 170l4 -7h-8zM161.2 168.3l4 -7h-8zM161.6 163.6l4 -7h-8zM162 160.6l4 -7h-8zM162.5 158.3l4 -7h-8zM162.9 154.3l4 -7h-8zM163.3 152.2l4 -7h-8zM163.7 151l4 -7h-8zM164.2 148.3l4 -7h-8zM164.6 146.6l4 -7h-8zM165 145.2l4 -7h-8zM165.5 144.2l4 -7h-8zM165.9 141.1l4 -7h-8zM166.3 140.6l4 -7h-8zM166.8 139.2l4 -7h-8zM167.2 138.1l4 -7h-8zM167.6 137.3l4 -7h-8zM168.1 136.5l4 -7h-8zM168.5 136.1l4 -7h-8zM168.9 134.4l4 -7h-8zM169.3 134l4 -7h-8zM169.8 133.5l4 -7h-8zM170.2 132.1l4 -7h-8zM170.6 132l4 -7h-8zM171.1 132.4l4 -7h-8zM171.5 131.2l4 -7h-8zM171.9 130.2l4 -7h-8zM172.4 130.1l4 -7h-8zM172.8 129.3l4 -7h-8zM173.2 129.7l4 -7h-8zM173.6 129.7l4 -7h-8zM174.1 128.4l4 -7h-8zM174.5 128.5l4 -7h-8zM174.9 129.1l4 -7h-8zM175.4 127.9l4 -7h-8zM175.8 128.1l4 -7h-8zM176.2 127.2l4 -7h-8zM176.7 127.1l4 -7h-8zM177.1 127.1l4 -7h-8zM177.5 128.5l4 -7h-8zM178 126.8l4 -7h-8zM178.4 126.6l4 -7h-8zM178.8 126.4l4 -7h-8zM179.2 126.5l4 -7h-8zM179.7 126.8l4 -7h-8zM180.1 126.4l4 -7h-8zM180.5 127.4l4 -7h-8zM181 126.2l4 -7h-8zM181.4 126.7l4 -7h-8zM181.8 125.9l4 -7h-8zM182.3 126l4 -7h-8zM182.7 124.7l4 -7h-8zM183.1 125.3l4 -7h-8zM183.5 125.2l4 -7h-8zM184 125l4 -7h-8zM184.4 123.8l4 -7h-8zM184.8 125.5l4 -7h-8zM185.3 124.6l4 -7h-8zM185.7 124.5l4 -7h-8zM186.1 124.5l4 -7h-8zM186.6 124.4l4 -7h-8zM187 124.7l4 -7h-8zM187.4 123.7l4 -7h-8zM187.9 123.8l4 -7h-8zM188.3 124.4l4 -7h-8zM188.7 124.2l4 -7h-8zM189.1 123.9l4 -7h-8zM189.6 123.7l4 -7h-8zM190 123.4l4 -7h-8zM190.4 123.8l4 -7h-8zM190.9 124.5l4 -7h-8zM191.3 123.1l4 -7h-8zM191.7 124.5l4 -7h-8zM192.2 124.1l4 -7h-8zM192.6 123.2l4 -7h-8zM193 123.9l4 -7h-8zM193.5 122.5l4 -7h-8zM193.9 122.3l4 -7h-8zM194.3 122.5l4 -7h-8zM194.7 122.9l4 -7h-8zM195.2 122.9l4 -7h-8zM195.6 122.7l4 -7h-8zM196 123l4 -7h-8zM196.5 121.6l4 -7h-8zM196.9 123.1l4 -7h-8zM197.3 121.9l4 -7h-8zM197.8 122.3l4 -7h-8zM198.2 122.3l4 -7h-8zM198.6 121.8l4 -7h-8zM199 121.6l4 -7h-8zM199.5 121.7l4 -7h-8zM199.9 122.2l4 -7h-8zM200.3 122.5l4 -7h-8zM200.8 122.4l4 -7h-8zM201.2 121.4l4 -7h-8zM201.6 121.4l4 -7h-8zM202.1 121.2l4 -7h-8zM202.5 121.9l4 -7h-8zM202.9 120.4l4 -7h-8zM203.4 122.2l4 -7h-8zM203.8 121.1l4 -7h-8zM204.2 120.8l4 -7h-8zM204.6 121.4l4 -7h-8zM205.1 121.7l4 -7h-8zM205.5 121.2l4 -7h-8zM205.9 121.5l4 -7h-8zM206.4 120.9l4 -7h-8zM206.8 121.5l4 -7h-8zM207.2 121.4l4 -7h-8zM207.7 120.5l4 -7h-8zM208.1 121.3l4 -7h-8zM208.5 120.5l4 -7h-8zM209 120.4l4 -7h-8zM209.4 119.7l4 -7h-8zM209.8 120l4 -7h-8zM210.2 120.6l4 -7h-8zM210.7 119.3l4 -7h-8zM211.1 120.4l4 -7h-8zM211.5 120.2l4 -7h-8zM212 120.1l4 -7h-8zM212.4 118.6l4 -7h-8zM212.8 119.7l4 -7h-8zM213.3 120.1l4 -7h-8zM213.7 119.3l4 -7h-8zM214.1 119.7l4 -7h-8zM214.5 118.2l4 -7h-8zM215 120l4 -7h-8zM215.4 119.2l4 -7h-8zM215.8 120l4 -7h-8zM216.3 118.4l4 -7h-8zM216.7 119.8l4 -7h-8zM217.1 119.2l4 -7h-8zM217.6 119.8l4 -7h-8zM218 118.8l4 -7h-8zM218.4 118.9l4 -7h-8zM218.9 120.5l4 -7h-8zM219.3 118.7l4 -7h-8zM219.7 118.7l4 -7h-8zM220.1 118.9l4 -7h-8zM220.6 118.5l4 -7h-8zM221 119.7l4 -7h-8zM221.4 120l4 -7h-8zM221.9 118.5l4 -7h-8zM222.3 117.9l4 -7h-8zM222.7 119.5l4 -7h-8zM223.2 119.5l4 -7h-8zM223.6 119.3l4 -7h-8zM224 119.4l4 -7h-8zM224.5 118.2l4 -7h-8zM224.9 118.5l4 -7h-8zM225.3 117.8l4 -7h-8zM225.7 117.7l4 -7h-8zM226.2 119.1l4 -7h-8zM226.6 118.1l4 -7h-8zM227 119.8l4 -7h-8zM227.5 118.4l4 -7h-8zM227.9 118l4 -7h-8zM228.3 118.8l4 -7h-8zM228.8 119.3l4 -7h-8zM229.2 118.5l4 -7h-8zM229.6 117.4l4 -7h-8zM230 118.3l4 -7h-8zM230.5 118.9l4 -7h-8zM230.9 117.7l4 -7h-8zM231.3 117.5l4 -7h-8zM231.8 118.5l4 -7h-8zM232.2 118l4 -7h-8zM232.6 117.2l4 -7h-8zM233.1 117.6l4 -7h-8zM233.5 117.3l4 -7h-8zM233.9 117.9l4 -7h-8zM234.4 117.7l4 -7h-8zM234.8 118.3l4 -7h-8zM235.2 117.9l4 -7h-8zM235.6 116.5l4 -7h-8zM236.1 117.7l4 -7h-8zM236.5 117.9l4 -7h-8zM236.9 117.6l4 -7h-8zM237.4 117.9l4 -7h-8zM237.8 116.9l4 -7h-8zM238.2 116.6l4 -7h-8zM238.7 117.6l4 -7h-8zM239.1 116.4l4 -7h-8zM239.5 115.7l4 -7h-8zM240 117.5l4 -7h-8zM240.4 116.4l4 -7h-8zM240.8 116.6l4 -7h-8zM241.2 115.9l4 -7h-8zM241.7 115.9l4 -7h-8zM242.1 116l4 -7h-8zM242.5 116.4l4 -7h-8zM243 116.7l4 -7h-8zM243.4 115.1l4 -7h-8zM243.8 116.9l4 -7h-8zM244.3 115.6l4 -7h-8zM244.7 115.7l4 -7h-8zM245.1 116.6l4 -7h-8zM245.5 116.1l4 -7h-8zM246 115.2l4 -7h-8zM246.4 117.2l4 -7h-8zM246.8 115.5l4 -7h-8zM247.3 116.1l4 -7h-8zM247.7 116l4 -7h-8zM248.1 116.7l4 -7h-8zM248.6 115.5l4 -7h-8zM249 116.3l4 -7h-8zM249.4 115.2l4 -7h-8zM249.9 116.3l4 -7h-8zM250.3 115.1l4 -7h-8zM250.7 115.3l4 -7h-8zM251.1 116.6l4 -7h-8zM251.6 115.6l4 -7h-8zM252 115.4l4 -7h-8zM252.4 116.6l4 -7h-8zM252.9 115.4l4 -7h-8zM253.3 114.7l4 -7h-8zM253.7 115.5l4 -7h-8zM254.2 114.4l4 -7h-8zM254.6 115.7l4 -7h-8zM255 115.7l4 -7h-8zM255.5 114.5l4 -7h-8zM255.9 114.5l4 -7h-8zM256.3 114.9l4 -7h-8zM256.7 114.7l4 -7h-8zM257.2 114.1l4 -7h-8zM257.6 115l4 -7h-8zM258 113.3l4 -7h-8zM258.5 114.2l4 -7h-8zM258.9 114.2l4 -7h-8zM259.3 114.2l4 -7h-8zM259.8 114.5l4 -7h-8zM260.2 113.6l4 -7h-8zM260.6 114.6l4 -7h-8zM261 114.1l4 -7h-8zM261.5 113.7l4 -7h-8zM261.9 113.3l4 -7h-8zM262.3 113.3l4 -7h-8zM262.8 114.2l4 -7h-8zM263.2 113.4l4 -7h-8zM263.6 113.9l4 -7h-8zM264.1 114.5l4 -7h-8zM264.5 114.4l4 -7h-8zM264.9 114.7l4 -7h-8zM265.4 113.5l4 -7h-8zM265.8 113l4 -7h-8zM266.2 114.2l4 -7h-8zM266.6 113.7l4 -7h-8zM267.1 114.2l4 -7h-8zM267.5 113.5l4 -7h-8zM267.9 114.1l4 -7h-8zM268.4 113.9l4 -7h-8zM268.8 113.8l4 -7h-8zM269.2 113.6l4 -7h-8zM269.7 113.5l4 -7h-8zM270.1 113.3l4 -7h-8zM270.5 113.3l4 -7h-8zM270.9 113.7l4 -7h-8zM271.4 112.8l4 -7h-8zM271.8 114.1l4 -7h-8zM272.2 112.9l4 -7h-8zM272.7 113.5l4 -7h-8zM273.1 112.9l4 -7h-8zM273.5 112.7l4 -7h-8zM274 114l4 -7h-8zM274.4 112.6l4 -7h-8zM274.8 112l4 -7h-8zM275.3 112.3l4 -7h-8zM275.7 112.5l4 -7h-8zM276.1 113.9l4 -7h-8zM276.5 112.7l4 -7h-8zM277 113.1l4 -7h-8zM277.4 111.9l4 -7h-8zM277.8 112.7l4 -7h-8zM278.3 112.8l4 -7h-8zM278.7 113.4l4 -7h-8zM279.1 111.9l4 -7h-8zM279.6 112.6l4 -7h-8zM280 112.4l4 -7h-8zM280.4 111.6l4 -7h-8zM280.9 112l4 -7h-8z" fill="#008000"/>
<path d="M88.4 352.6h.01M88.8 352.5h.01M89.3 352.8h.01M89.7 352.9h.01M90.1 353.2h.01M90.6 352.9h.01M91 352.6h.01M91.4 353h.01M91.8 352.6h.01M92.3 352.5h.01M92.7 353.3h.01M93.1 352.9h.01M93.6 352.9h.01M94 352.9h.01M94.4 353.2h.01M94.9 352.9h.01M95.3 353h.01M95.7 352.6h.01M96.1 352.5h.01M96.6 353.1h.01M97 353.1h.01M97.4 352.9h.01M97.9 352.8h.01M98.3 352.8h.01M98.7 352.7h.01M99.2 353.1h.01M99.6 352.9h.01M100 352.9h.01M100.5 352.9h.01M100.9 353h.01M101.3 352.9h.01M101.7 352.9h.01M102.2 352.6h.01M102.6 352.9h.01M103 353.2h.01M103.5 352.7h.01M103.9 352.8h.01M104.3 353h.01M104.8 353h.01M105.2 352.9h.01M105.6 352.5h.01M106.1 352.9h.01M106.5 352.6h.01M106.9 352.6h.01M107.3 352.9h.01M107.8 352.7h.01M108.2 353h.01M108.6 353.4h.01M109.1 353h.01M109.5 352.9h.01M109.9 352.6h.01M110.4 352.7h.01M110.8 352.6h.01M111.2 352.7h.01M111.6 352.6h.01M112.1 352.7h.01M112.5 352.8h.01M112.9 352.6h.01M113.4 352.5h.01M113.8 352.5h.01M114.2 352.9h.01M114.7 352.8h.01M115.1 353h.01M115.5 353h.01M116 352.7h.01M116.4 352.9h.01M116.8 352.5h.01M117.2 353.3h.01M117.7 353h.01M118.1 352.8h.01M118.5 352.6h.01M119 352.9h.01M119.4 352.4h.01M119.8 352.6h.01M120.3 353h.01M120.7 352.8h.01M121.1 352.7h.01M121.6 353h.01M122 352.6h.01M122.4 352.9h.01M122.8 352.7h.01M123.3 352.6h.01M123.7 352.9h.01M124.1 352.6h.01M124.6 353.2h.01M125 352.7h.01M125.4 353.2h.01M125.9 352.6h.01M126.3 352.9h.01M126.7 352.6h.01M127.1 352.5h.01M127.6 352.8h.01M128 352.9h.01M128.4 352.5h.01M128.9 353h.01M129.3 352.6h.01M129.7 352.8h.01M130.2 352.9h.01M130.6 352.9h.01M131 352.4h.01M131.5 353.1h.01M131.9 352.9h.01M132.3 352.7h.01M132.7 352.6h.01M133.2 352.5h.01M133.6 352.5h.01M134 352.9h.01M134.5 352.7h.01M134.9 352.6h.01M135.3 352.7h.01M135.8 353.1h.01M136.2 352.7h.01M136.6 352.7h.01M137.1 353.1h.01M137.5 352.9h.01M137.9 352.8h.01M138.3 352.7h.01M138.8 352.5h.01M139.2 352.6h.01M139.6 352.7h.01M140.1 352.8h.01M140.5 352.9h.01M140.9 352.9h.01M141.4 352.8h.01M141.8 352.8h.01M142.2 352.6h.01M142.6 352.4h.01M143.1 352.7h.01M143.5 352.6h.01M143.9 352.7h.01M144.4 352.7h.01M144.8 352.6h.01M145.2 352.6h.01M145.7 352.8h.01M146.1 352.8h.01M146.5 352.7h.01M147 352.9h.01M147.4 352.8h.01M147.8 352.6h.01M148.2 352.8h.01M148.7 353.2h.01M149.1 352.7h.01M149.5 353h.01M150 353.1h.01M150.4 353.1h.01M150.8 352.6h.01M151.3 353.2h.01M151.7 352.8h.01M152.1 352.7h.01M152.6 352.8h.01M153 352.9h.01M153.4 352.8h.01M153.8 352.8h.01M154.3 353.1h.01M154.7 352.7h.01M155.1 352.6h.01M155.6 353h.01M156 352.9h.01M156.4 353h.01M156.9 352.6h.01M157.3 353h.01M157.7 352.9h.01M158.1 353.1h.01M158.6 352.5h.01M159 352.8h.01M159.4 352.7h.01M159.9 352.4h.01M160.3 352.6h.01M160.7 352.9h.01M161.2 352.6h.01M161.6 352.5h.01M162 352.8h.01M162.5 352.7h.01M162.9 352.8h.01M163.3 352.3h.01M163.7 352.5h.01M164.2 352.6h.01M164.6 352.1h.01M165 351.9h.01M165.5 352.2h.01M165.9 352.2h.01M166.3 351.5h.01M166.8 351.1h.01M167.2 351.2h.01M167.6 350.9h.01M168.1 351.2h.01M168.5 350.8h.01M168.9 350.3h.01M169.3 350.1h.01M169.8 350h.01M170.2 349.5h.01M170.6 348.5h.01M171.1 348.9h.01M171.5 348.2h.01M171.9 347.7h.01M172.4 347.2h.01M172.8 346.9h.01M173.2 345.7h.01M173.6 344.5h.01M174.1 345.2h.01M174.5 344.3h.01M174.9 343.4h.01M175.4 342.8h.01M175.8 341.1h.01M176.2 341.6h.01M176.7 340.3h.01M177.1 340.7h.01M177.5 338.1h.01M178 339.2h.01M178.4 338.8h.01M178.8 337.3h.01M179.2 336.3h.01M179.7 334.2h.01M180.1 334.2h.01M180.5 333.4h.01M181 332.6h.01M181.4 331.3h.01M181.8 331.2h.01M182.3 329.7h.01M182.7 328.9h.01M183.1 328.5h.01M183.5 327.3h.01M184 326.8h.01M184.4 326.4h.01M184.8 324h.01M185.3 324.7h.01M185.7 322.6h.01M186.1 321.9h.01M186.6 321.4h.01M187 321.6h.01M187.4 320.3h.01M187.9 319.3h.01M188.3 319h.01M188.7 318.4h.01M189.1 317.3h.01M189.6 317.5h.01M190 316.3h.01M190.4 316.6h.01M190.9 314.8h.01M191.3 315.4h.01M191.7 314.3h.01M192.2 313.9h.01M192.6 313.1h.01M193 313.9h.01M193.5 312.4h.01M193.9 312.6h.01M194.3 310.9h.01M194.7 309.8h.01M195.2 310.2h.01M195.6 309.3h.01M196 308.2h.01M196.5 307.3h.01M196.9 305.9h.01M197.3 304.2h.01M197.8 304.9h.01M198.2 301.8h.01M198.6 302.7h.01M199 300.6h.01M199.5 298.6h.01M199.9 297.8h.01M200.3 298.4h.01M200.8 296.5h.01M201.2 295.5h.01M201.6 294.8h.01M202.1 291.5h.01M202.5 292.8h.01M202.9 290.6h.01M203.4 288.4h.01M203.8 288.3h.01M204.2 285.3h.01M204.6 283.7h.01M205.1 283.2h.01M205.5 280.8h.01M205.9 278.9h.01M206.4 275.4h.01M206.8 278.2h.01M207.2 272h.01M207.7 271.5h.01M208.1 269.6h.01M208.5 268.7h.01M209 267.2h.01M209.4 262.3h.01M209.8 260.4h.01M210.2 255h.01M210.7 256.8h.01M211.1 247.8h.01M211.5 246.6h.01M212 245.3h.01M212.4 243.2h.01M212.8 240.7h.01M213.3 239.1h.01M213.7 235.6h.01M214.1 233.3h.01M214.5 230.9h.01M215 231.2h.01M215.4 227.1h.01M215.8 226.3h.01M216.3 222.1h.01M216.7 217.4h.01M217.1 216.9h.01M217.6 216.8h.01M218 216.8h.01M218.4 214.9h.01M218.9 212.9h.01M219.3 207.5h.01M219.7 207.4h.01M220.1 204.9h.01M220.6 203.8h.01M221 201.9h.01M221.4 198.3h.01M221.9 198.3h.01M222.3 196.1h.01M222.7 195.7h.01M223.2 190.9h.01M223.6 191.3h.01M224 190h.01M224.5 187.6h.01M224.9 185.6h.01M225.3 180.8h.01M225.7 175.5h.01M226.2 179.5h.01M226.6 174.2h.01M227 173.6h.01M227.5 173.4h.01M227.9 171.3h.01M228.3 169.1h.01M228.8 168h.01M229.2 162.5h.01M229.6 166h.01M230 161.1h.01M230.5 160.4h.01M230.9 159.8h.01M231.3 157.2h.01M231.8 155.8h.01M232.2 154.2h.01M232.6 152.3h.01M233.1 150.1h.01M233.5 151.4h.01M233.9 146.9h.01M234.4 145.1h.01M234.8 143.8h.01M235.2 143.8h.01M235.6 144.3h.01M236.1 142.6h.01M236.5 141.8h.01M236.9 139.9h.01M237.4 138.1h.01M237.8 139.8h.01M238.2 137.8h.01M238.7 137.2h.01M239.1 136.4h.01M239.5 135.2h.01M240 134.1h.01M240.4 133.2h.01M240.8 131.5h.01M241.2 133.3h.01M241.7 132.4h.01M242.1 131.5h.01M242.5 130.1h.01M243 129.1h.01M243.4 127.9h.01M243.8 128.7h.01M244.3 127.6h.01M244.7 126.1h.01M245.1 126.7h.01M245.5 125.3h.01M246 124.7h.01M246.4 124h.01M246.8 123.8h.01M247.3 124.6h.01M247.7 122.2h.01M248.1 122.3h.01M248.6 122.2h.01M249 122.4h.01M249.4 122h.01M249.9 120.5h.01M250.3 121.3h.01M250.7 120.2h.01M251.1 119.8h.01M251.6 119.6h.01M252 119h.01M252.4 119h.01M252.9 119h.01M253.3 118.3h.01M253.7 118.8h.01M254.2 118h.01M254.6 118.1h.01M255 116.9h.01M255.5 116.6h.01M255.9 117.4h.01M256.3 116.1h.01M256.7 116.6h.01M257.2 116.3h.01M257.6 116h.01M258 115.7h.01M258.5 116.6h.01M258.9 114.4h.01M259.3 116h.01M259.8 116.6h.01M260.2 115.3h.01M260.6 115.1h.01M261 115.2h.01M261.5 115.7h.01M261.9 113.9h.01M262.3 114.7h.01M262.8 114.3h.01M263.2 114.6h.01M263.6 114.2h.01M264.1 114.4h.01M264.5 113.7h.01M264.9 113.7h.01M265.4 113.2h.01M265.8 113.2h.01M266.2 113.2h.01M266.6 113.1h.01M267.1 112.6h.01M267.5 113.8h.01M267.9 112.9h.01M268.4 112h.01M268.8 113.3h.01M269.2 112.3h.01M269.7 112.8h.01M270.1 112.5h.01M270.5 112.5h.01M270.9 112.3h.01M271.4 111.8h.01M271.8 112.1h.01M272.2 113.3h.01M272.7 110.7h.01M273.1 112h.01M273.5 111.9h.01M274 111h.01M274.4 110.8h.01M274.8 112.6h.01M275.3 111.2h.01M275.7 112.4h.01M276.1 111.5h.01M276.5 111.2h.01M277 111.3h.01M277.4 111.2h.01M277.8 111.5h.01M278.3 110.9h.01M278.7 110.8h.01M279.1 110.7h.01M279.6 111.2h.01M280 110.8h.01M280.4 109.7h.01M280.9 109.9h.01M281.3 110.3h.01M281.7 109.7h.01M282.1 109.6h.01M282.6 109.4h.01M283 109.6h.01M283.4 109.8h.01M283.9 110.1h.01M284.3 109.5h.01M284.7 110.6h.01M285.2 109.1h.01M285.6 111h.01M286 109.7h.01M286.4 109.3h.01M286.9 108.8h.01M287.3 107.4h.01M287.7 108.7h.01M288.2 108.8h.01M288.6 109.7h.01M289 107.8h.01M289.5 109.6h.01M289.9 108.2h.01M290.3 108.7h.01M290.8 106.7h.01M291.2 108.1h.01M291.6 107.6h.01M292 108.2h.01M292.5 107.9h.01M292.9 107.1h.01M293.3 108.4h.01M293.8 108h.01M294.2 107.8h.01M294.6 107.8h.01M295.1 107.8h.01M295.5 107.1h.01M295.9 106.3h.01M296.4 106.2h.01M296.8 107.5h.01M297.2 107.2h.01M297.6 106.8h.01M298.1 106.4h.01M298.5 106.4h.01M298.9 106.3h.01M299.4 106h.01M299.8 105.9h.01M300.2 107.3h.01M300.7 106.1h.01M301.1 105.5h.01M301.5 105.1h.01M301.9 105.2h.01M302.4 106h.01M302.8 105.8h.01M303.2 105.2h.01M303.7 105.3h.01M304.1 105h.01M304.5 104.5h.01M305 105.7h.01M305.4 105.1h.01M305.8 106.2h.01M306.3 104.3h.01M306.7 104.6h.01M307.1 105h.01M307.5 104.4h.01M308 103.6h.01M308.4 103.7h.01M308.8 104.3h.01M309.3 104.4h.01M309.7 104h.01M310.1 104.6h.01M310.6 104.5h.01M311 103.9h.01M311.4 103.8h.01M311.9 103.5h.01M312.3 103.9h.01M312.7 104h.01M313.1 103.5h.01M313.6 103.6h.01M314 103.1h.01M314.4 102.5h.01M314.9 102.7h.01M315.3 103.6h.01M315.7 103.3h.01M316.2 103.9h.01M316.6 103h.01M317 103.4h.01M317.4 103.6h.01M317.9 103.3h.01M318.3 102.4h.01M318.7 102.6h.01M319.2 102.7h.01M319.6 102.1h.01M320 102.8h.01M320.5 103.1h.01M320.9 102.1h.01M321.3 103.5h.01M321.8 102.2h.01M322.2 102.2h.01M322.6 102.1h.01M323 101.8h.01M323.5 102.3h.01M323.9 102.1h.01M324.3 102.9h.01M324.8 102.3h.01M325.2 102.1h.01M325.6 101.7h.01M326.1 101h.01M326.5 101.7h.01M326.9 101.2h.01M327.4 102.1h.01M327.8 101.6h.01M328.2 102.5h.01M328.6 101.9h.01M329.1 101.9h.01M329.5 101.5h.01M329.9 101.5h.01M330.4 101.7h.01M330.8 101.9h.01M331.2 100.8h.01M331.7 101.5h.01M332.1 102.6h.01M332.5 101h.01M332.9 100.9h.01M333.4 100.6h.01M333.8 100.1h.01M334.2 101.6h.01M334.7 100.8h.01M335.1 100.9h.01M335.5 101.8h.01M336 102.1h.01M336.4 100.1h.01M336.8 101.2h.01M337.3 100.9h.01M337.7 100.8h.01M338.1 100.8h.01M338.5 100.4h.01M339 101.3h.01M339.4 100.7h.01M339.8 100.5h.01M340.3 101h.01M340.7 100.7h.01M341.1 100.4h.01M341.6 100.2h.01M342 101.1h.01M342.4 100.3h.01M342.9 99.9h.01M343.3 99.4h.01M343.7 99.6h.01M344.1 99.1h.01M344.6 99.8h.01M345 99.8h.01M345.4 98.5h.01M345.9 99.5h.01M346.3 99.9h.01M346.7 99.5h.01M347.2 98.9h.01M347.6 100.1h.01M348 98.9h.01M348.4 98.5h.01M348.9 98.5h.01M349.3 99.1h.01M349.7 99.6h.01M350.2 99.7h.01M350.6 99.1h.01M351 98.2h.01M351.5 98.5h.01M351.9 98.4h.01M352.3 98.6h.01M352.8 97.7h.01M353.2 98.8h.01M353.6 99h.01M354 98.5h.01M354.5 98.7h.01M354.9 97.9h.01M355.3 97.6h.01M355.8 98h.01M356.2 98.9h.01M356.6 98.7h.01M357.1 97.9h.01M357.5 98.9h.01M357.9 97.9h.01M358.3 98.9h.01M358.8 98.2h.01M359.2 97.7h.01M359.6 98.3h.01M360.1 97.3h.01M360.5 97.3h.01M360.9 96.8h.01M361.4 97.8h.01M361.8 97.4h.01M362.2 97.4h.01M362.7 97.2h.01M363.1 98.2h.01M363.5 97.1h.01M363.9 96.9h.01M364.4 97.9h.01M364.8 98h.01M365.2 97.4h.01M365.7 96h.01M366.1 96.7h.01M366.5 97.3h.01M367 96.9h.01M367.4 97.8h.01M367.8 96.1h.01M368.3 97.1h.01M368.7 96.3h.01M369.1 97.3h.01M369.5 96.5h.01M370 97.1h.01M370.4 96h.01M370.8 95.6h.01M371.3 95.7h.01M371.7 95.9h.01M372.1 95.7h.01M372.6 96.8h.01M373 96.8h.01M373.4 96.2h.01M373.8 95.4h.01M374.3 95.8h.01M374.7 95.5h.01M375.1 96.6h.01M375.6 95.9h.01M376 96h.01M376.4 95.4h.01M376.9 94.4h.01M377.3 95.1h.01M377.7 94.8h.01M378.2 95.6h.01M378.6 95.4h.01M379 94.8h.01M379.4 95h.01M379.9 96.1h.01M380.3 94.6h.01M380.7 94.5h.01M381.2 94.8h.01M381.6 94.6h.01M382 94.6h.01M382.5 95.2h.01M382.9 95.8h.01M383.3 93.7h.01M383.8 94.7h.01M384.2 94.6h.01M384.6 94.5h.01M385 94.5h.01M385.5 94.3h.01M385.9 95h.01M386.3 94.1h.01M386.8 94.4h.01M387.2 94.3h.01M387.6 94.3h.01M388.1 94.1h.01M388.5 94.7h.01M388.9 94.1h.01M389.3 94.2h.01M389.8 94h.01M390.2 93.4h.01M390.6 93.5h.01M391.1 93.3h.01M391.5 94h.01M391.9 93.5h.01M392.4 93.2h.01M392.8 93.9h.01M393.2 94h.01M393.7 92.6h.01M394.1 94.6h.01M394.5 93.6h.01M394.9 93.5h.01M395.4 94.1h.01M395.8 93.5h.01M396.2 93.1h.01M396.7 94.6h.01M397.1 92.7h.01M397.5 93.3h.01M398 93.7h.01M398.4 92.6h.01M398.8 93.1h.01M399.3 93.3h.01M399.7 94.5h.01M400.1 92.5h.01M400.5 92.9h.01M401 93.3h.01M401.4 92.9h.01M401.8 92.1h.01M402.3 93h.01M402.7 92.8h.01M403.1 93h.01M403.6 93.3h.01M404 93.2h.01M404.4 92.8h.01M404.8 92.6h.01M405.3 91.8h.01M405.7 92.3h.01M406.1 92.4h.01M406.6 92.1h.01M407 92.3h.01M407.4 91.7h.01M407.9 92.9h.01M408.3 93.2h.01" fill="none" stroke="#800000" stroke-width="7.2" stroke-linecap="square"/>
<path d="M88.4 348.3l4 7h-8zM88.8 348.4l4 7h-8zM89.3 348.3l4 7h-8zM89.7 348.1l4 7h-8zM90.1 347.7l4 7h-8zM90.6 348.6l4 7h-8zM91 347.8l4 7h-8zM91.4 347.9l4 7h-8zM91.8 348.3l4 7h-8zM92.3 348.1l4 7h-8zM92.7 348.5l4 7h-8zM93.1 348.8l4 7h-8zM93.6 348.5l4 7h-8zM94 348.5l4 7h-8zM94.4 348.4l4 7h-8zM94.9 348.7l4 7h-8zM95.3 347.6l4 7h-8zM95.7 348.5l4 7h-8zM96.1 348l4 7h-8zM96.6 347.9l4 7h-8zM97 348.4l4 7h-8zM97.4 348.2l4 7h-8zM97.9 348.6l4 7h-8zM98.3 348.8l4 7h-8zM98.7 347.4l4 7h-8zM99.2 348.3l4 7h-8zM99.6 349.2l4 7h-8zM100 348.7l4 7h-8zM100.5 349l4 7h-8zM100.9 348.4l4 7h-8zM101.3 347.8l4 7h-8zM101.7 347.9l4 7h-8zM102.2 348.7l4 7h-8zM102.6 348.8l4 7h-8zM103 348.1l4 7h-8zM103.5 348.3l4 7h-8zM103.9 348.5l4 7h-8zM104.3 347.6l4 7h-8zM104.8 348.2l4 7h-8zM105.2 349.1l4 7h-8zM105.6 349.3l4 7h-8zM106.1 348.3l4 7h-8zM106.5 349.1l4 7h-8zM106.9 348.2l4 7h-8zM107.3 348l4 7h-8zM107.8 347.4l4 7h-8zM108.2 348.8l4 7h-8zM108.6 348.2l4 7h-8zM109.1 349.4l4 7h-8zM109.5 348.5l4 7h-8zM109.9 348.5l4 7h-8zM110.4 347.6l4 7h-8zM110.8 349l4 7h-8zM111.2 348.2l4 7h-8zM111.6 348.3l4 7h-8zM112.1 347.4l4 7h-8zM112.5 348.8l4 7h-8zM112.9 348.8l4 7h-8zM113.4 348.1l4 7h-8zM113.8 348.4l4 7h-8zM114.2 348.5l4 7h-8zM114.7 348.8l4 7h-8zM115.1 348.4l4 7h-8zM115.5 349.1l4 7h-8zM116 348.3l4 7h-8zM116.4 348.1l4 7h-8zM116.8 348.2l4 7h-8zM117.2 347.3l4 7h-8zM117.7 348l4 7h-8zM118.1 348.8l4 7h-8zM118.5 348.5l4 7h-8zM119 348l4 7h-8zM119.4 348.5l4 7h-8zM119.8 347.5l4 7h-8zM120.3 348.3l4 7h-8zM120.7 348.6l4 7h-8zM121.1 348.7l4 7h-8zM121.6 348.1l4 7h-8zM122 348.8l4 7h-8zM122.4 349.2l4 7h-8zM122.8 348.2l4 7h-8zM123.3 348.7l4 7h-8zM123.7 347.7l4 7h-8zM124.1 347.6l4 7h-8zM124.6 348.6l4 7h-8zM125 348.4l4 7h-8zM125.4 348.5l4 7h-8zM125.9 348.1l4 7h-8zM126.3 348.3l4 7h-8zM126.7 348.7l4 7h-8zM127.1 349.1l4 7h-8zM127.6 348.3l4 7h-8zM128 347.7l4 7h-8zM128.4 348.9l4 7h-8zM128.9 348.6l4 7h-8zM129.3 348.7l4 7h-8zM129.7 348.5l4 7h-8zM130.2 349.4l4 7h-8zM130.6 348.4l4 7h-8zM131 348.6l4 7h-8zM131.5 347.6l4 7h-8zM131.9 348.1l4 7h-8zM132.3 348.1l4 7h-8zM132.7 348.4l4 7h-8zM133.2 348.5l4 7h-8zM133.6 348.1l4 7h-8zM134 349.1l4 7h-8zM134.5 347.9l4 7h-8zM134.9 348.2l4 7h-8zM135.3 348.5l4 7h-8zM135.8 347.9l4 7h-8zM136.2 348.6l4 7h-8zM136.6 348.6l4 7h-8zM137.1 348.3l4 7h-8zM137.5 349.2l4 7h-8zM137.9 348.4l4 7h-8zM138.3 348.5l4 7h-8zM138.8 348l4 7h-8zM139.2 347.7l4 7h-8zM139.6 348.1l4 7h-8zM140.1 348.2l4 7h-8zM140.5 348.2l4 7h-8zM140.9 348.7l4 7h-8zM141.4 347.4l4 7h-8zM141.8 347.9l4 7h-8zM142.2 347.6l4 7h-8zM142.6 348.9l4 7h-8zM143.1 348.1l4 7h-8zM143.5 348.2l4 7h-8zM143.9 347.9l4 7h-8zM144.4 348.8l4 7h-8zM144.8 348.2l4 7h-8zM145.2 348.5l4 7h-8zM145.7 347.5l4 7h-8zM146.1 348.9l4 7h-8zM146.5 348.5l4 7h-8zM147 348.6l4 7h-8zM147.4 348.9l4 7h-8zM147.8 348.3l4 7h-8zM148.2 348.3l4 7h-8zM148.7 348.7l4 7h-8zM149.1 348.6l4 7h-8zM149.5 348.3l4 7h-8zM150 348.4l4 7h-8zM150.4 348.2l4 7h-8zM150.8 348.7l4 7h-8zM151.3 348.8l4 7h-8zM151.7 348.4l4 7h-8zM152.1 349.2l4 7h-8zM152.6 347.7l4 7h-8zM153 348.3l4 7h-8zM153.4 349.1l4 7h-8zM153.8 348.2l4 7h-8zM154.3 347.7l4 7h-8zM154.7 349l4 7h-8zM155.1 348.6l4 7h-8zM155.6 347.9l4 7h-8zM156 348.7l4 7h-8zM156.4 347.9l4 7h-8zM156.9 347.8l4 7h-8zM157.3 348.3l4 7h-8zM157.7 348.2l4 7h-8zM158.1 347.9l4 7h-8zM158.6 348.2l4 7h-8zM159 348l4 7h-8zM159.4 348.4l4 7h-8zM159.9 348.4l4 7h-8zM160.3 348.7l4 7h-8zM160.7 348.2l4 7h-8zM161.2 347.8l4 7h-8zM161.6 347.8l4 7h-8zM162 348.3l4 7h-8zM162.5 349l4 7h-8zM162.9 348.7l4 7h-8zM163.3 348.1l4 7h-8zM163.7 348.8l4 7h-8zM164.2 347.9l4 7h-8zM164.6 348.8l4 7h-8zM165 348.2l4 7h-8zM165.5 348.7l4 7h-8zM165.9 348.6l4 7h-8zM166.3 348.3l4 7h-8zM166.8 348.5l4 7h-8zM167.2 347.9l4 7h-8zM167.6 348.3l4 7h-8zM168.1 348.8l4 7h-8zM168.5 350.1l4 7h-8zM168.9 348.7l4 7h-8zM169.3 348.4l4 7h-8zM169.8 348l4 7h-8zM170.2 348.8l4 7h-8zM170.6 347.7l4 7h-8zM171.1 348l4 7h-8zM171.5 348.5l4 7h-8zM171.9 347.9l4 7h-8zM172.4 349l4 7h-8zM172.8 348.8l4 7h-8zM173.2 348.1l4 7h-8zM173.6 348.1l4 7h-8zM174.1 347.8l4 7h-8zM174.5 347.8l4 7h-8zM174.9 348.6l4 7h-8zM175.4 348.6l4 7h-8zM175.8 348.5l4 7h-8zM176.2 348.5l4 7h-8zM176.7 348.1l4 7h-8zM177.1 348.5l4 7h-8zM177.5 347.8l4 7h-8zM178 348.4l4 7h-8zM178.4 349l4 7h-8zM178.8 348.9l4 7h-8zM179.2 348.2l4 7h-8zM179.7 348.2l4 7h-8zM180.1 349l4 7h-8zM180.5 349.1l4 7h-8zM181 347.7l4 7h-8zM181.4 348.2l4 7h-8zM181.8 348.5l4 7h-8zM182.3 348.9l4 7h-8zM182.7 348l4 7h-8zM183.1 348.7l4 7h-8zM183.5 348.3l4 7h-8zM184 349.4l4 7h-8zM184.4 348.6l4 7h-8zM184.8 348.3l4 7h-8zM185.3 348.2l4 7h-8zM185.7 348.8l4 7h-8zM186.1 348.7l4 7h-8zM186.6 347.9l4 7h-8zM187 348.5l4 7h-8zM187.4 347.8l4 7h-8zM187.9 348.1l4 7h-8zM188.3 347.8l4 7h-8zM188.7 347.8l4 7h-8zM189.1 348.1l4 7h-8zM189.6 348l4 7h-8zM190 348.6l4 7h-8zM190.4 348.7l4 7h-8zM190.9 348.3l4 7h-8zM191.3 347.9l4 7h-8zM191.7 348.7l4 7h-8zM192.2 347.5l4 7h-8zM192.6 347.5l4 7h-8zM193 348.6l4 7h-8zM193.5 348.6l4 7h-8zM193.9 348.7l4 7h-8zM194.3 348.2l4 7h-8zM194.7 347.8l4 7h-8zM195.2 348.1l4 7h-8zM195.6 348.5l4 7h-8zM196 347.9l4 7h-8zM196.5 347.9l4 7h-8zM196.9 347.6l4 7h-8zM197.3 347.7l4 7h-8zM197.8 348.5l4 7h-8zM198.2 348.3l4 7h-8zM198.6 347.6l4 7h-8zM199 347.5l4 7h-8zM199.5 347.7l4 7h-8zM199.9 348.1l4 7h-8zM200.3 347.3l4 7h-8zM200.8 347.7l4 7h-8zM201.2 346.7l4 7h-8zM201.6 347.1l4 7h-8zM202.1 347.7l4 7h-8zM202.5 347.8l4 7h-8zM202.9 346.8l4 7h-8zM203.4 346.9l4 7h-8zM203.8 347.4l4 7h-8zM204.2 346.8l4 7h-8zM204.6 346.6l4 7h-8zM205.1 346.9l4 7h-8zM205.5 346.7l4 7h-8zM205.9 347.2l4 7h-8zM206.4 346.6l4 7h-8zM206.8 346l4 7h-8zM207.2 345.9l4 7h-8zM207.7 345.8l4 7h-8zM208.1 345.2l4 7h-8zM208.5 345.1l4 7h-8zM209 345.6l4 7h-8zM209.4 344.2l4 7h-8zM209.8 345.4l4 7h-8zM210.2 344.9l4 7h-8zM210.7 344.2l4 7h-8zM211.1 344.5l4 7h-8zM211.5 343.8l4 7h-8zM212 344.2l4 7h-8zM212.4 343.4l4 7h-8zM212.8 342.9l4 7h-8zM213.3 342.4l4 7h-8zM213.7 343.6l4 7h-8zM214.1 342.3l4 7h-8zM214.5 341.6l4 7h-8zM215 341.1l4 7h-8zM215.4 341l4 7h-8zM215.8 341.2l4 7h-8zM216.3 340.4l4 7h-8zM216.7 340.8l4 7h-8zM217.1 338.3l4 7h-8zM217.6 339.2l4 7h-8zM218 338.8l4 7h-8zM218.4 338.1l4 7h-8zM218.9 337.9l4 7h-8zM219.3 337.2l4 7h-8zM219.7 337.1l4 7h-8zM220.1 336.9l4 7h-8zM220.6 336l4 7h-8zM221 335.8l4 7h-8zM221.4 334.6l4 7h-8zM221.9 334l4 7h-8zM222.3 333.7l4 7h-8zM222.7 333.9l4 7h-8zM223.2 332.8l4 7h-8zM223.6 333.1l4 7h-8zM224 332l4 7h-8zM224.5 331.5l4 7h-8zM224.9 330.5l4 7h-8zM225.3 330.4l4 7h-8zM225.7 331.1l4 7h-8zM226.2 328.5l4 7h-8zM226.6 328.5l4 7h-8zM227 328.7l4 7h-8zM227.5 327.2l4 7h-8zM227.9 327.6l4 7h-8zM228.3 328.1l4 7h-8zM228.8 327l4 7h-8zM229.2 325.3l4 7h-8zM229.6 326.4l4 7h-8zM230 325.9l4 7h-8zM230.5 324.4l4 7h-8zM230.9 324.5l4 7h-8zM231.3 323.2l4 7h-8zM231.8 322.5l4 7h-8zM232.2 321.9l4 7h-8zM232.6 321.6l4 7h-8zM233.1 321.2l4 7h-8zM233.5 321.3l4 7h-8zM233.9 320.5l4 7h-8zM234.4 319l4 7h-8zM234.8 318.8l4 7h-8zM235.2 318.1l4 7h-8zM235.6 317.7l4 7h-8zM236.1 316.6l4 7h-8zM236.5 316.4l4 7h-8zM236.9 316.8l4 7h-8zM237.4 315l4 7h-8zM237.8 315.4l4 7h-8zM238.2 314.4l4 7h-8zM238.7 313.8l4 7h-8zM239.1 313.5l4 7h-8zM239.5 312.1l4 7h-8zM240 311.5l4 7h-8zM240.4 312.2l4 7h-8zM240.8 310.2l4 7h-8zM241.2 310.9l4 7h-8zM241.7 309.1l4 7h-8zM242.1 309.4l4 7h-8zM242.5 309.4l4 7h-8zM243 307l4 7h-8zM243.4 307.3l4 7h-8zM243.8 305.9l4 7h-8zM244.3 305.6l4 7h-8zM244.7 306.3l4 7h-8zM245.1 304.5l4 7h-8zM245.5 303.5l4 7h-8zM246 303.2l4 7h-8zM246.4 302.3l4 7h-8zM246.8 301.3l4 7h-8zM247.3 301.2l4 7h-8zM247.7 300l4 7h-8zM248.1 299.4l4 7h-8zM248.6 297.6l4 7h-8zM249 298.4l4 7h-8zM249.4 296.3l4 7h-8zM249.9 296.5l4 7h-8zM250.3 296.9l4 7h-8zM250.7 296.2l4 7h-8zM251.1 293.6l4 7h-8zM251.6 293.8l4 7h-8zM252 292.4l4 7h-8zM252.4 291.3l4 7h-8zM252.9 291.8l4 7h-8zM253.3 290.3l4 7h-8zM253.7 290.6l4 7h-8zM254.2 287.8l4 7h-8zM254.6 286.1l4 7h-8zM255 285.3l4 7h-8zM255.5 285l4 7h-8zM255.9 285.4l4 7h-8zM256.3 282l4 7h-8zM256.7 282.2l4 7h-8zM257.2 281.6l4 7h-8zM257.6 281.2l4 7h-8zM258 280.6l4 7h-8zM258.5 280l4 7h-8zM258.9 278.5l4 7h-8zM259.3 277.4l4 7h-8zM259.8 276.6l4 7h-8zM260.2 275.1l4 7h-8zM260.6 273.9l4 7h-8zM261 273.7l4 7h-8zM261.5 271l4 7h-8zM261.9 271.4l4 7h-8zM262.3 272.5l4 7h-8zM262.8 269.7l4 7h-8zM263.2 267.5l4 7h-8zM263.6 264.3l4 7h-8zM264.1 264.4l4 7h-8zM264.5 263.1l4 7h-8zM264.9 261.4l4 7h-8zM265.4 259.5l4 7h-8zM265.8 257.8l4 7h-8zM266.2 256.2l4 7h-8zM266.6 255.4l4 7h-8zM267.1 252l4 7h-8zM267.5 251.3l4 7h-8zM267.9 250.8l4 7h-8zM268.4 246.9l4 7h-8zM268.8 246.9l4 7h-8zM269.2 244.1l4 7h-8zM269.7 242.1l4 7h-8zM270.1 239.9l4 7h-8zM270.5 238.8l4 7h-8zM270.9 238.9l4 7h-8zM271.4 235.4l4 7h-8zM271.8 236l4 7h-8zM272.2 231.9l4 7h-8zM272.7 231.9l4 7h-8zM273.1 230l4 7h-8zM273.5 230.5l4 7h-8zM274 230.7l4 7h-8zM274.4 226.1l4 7h-8zM274.8 226.1l4 7h-8zM275.3 225.6l4 7h-8zM275.7 223.5l4 7h-8zM276.1 222.1l4 7h-8zM276.5 221.5l4 7h-8zM277 221.6l4 7h-8zM277.4 216.9l4 7h-8zM277.8 218.1l4 7h-8zM278.3 216.4l4 7h-8zM278.7 213l4 7h-8zM279.1 212.8l4 7h-8zM279.6 212.4l4 7h-8zM280 212.2l4 7h-8zM280.4 209.3l4 7h-8zM280.9 207.4l4 7h-8zM281.3 206.5l4 7h-8zM281.7 206.3l4 7h-8zM282.1 204.7l4 7h-8zM282.6 203.6l4 7h-8zM283 201.3l4 7h-8zM283.4 200l4 7h-8zM283.9 198.5l4 7h-8zM284.3 198.5l4 7h-8zM284.7 198l4 7h-8zM285.2 196.1l4 7h-8zM285.6 195.9l4 7h-8zM286 194.6l4 7h-8zM286.4 192l4 7h-8zM286.9 192.4l4 7h-8zM287.3 190.7l4 7h-8zM287.7 190.3l4 7h-8zM288.2 189.4l4 7h-8zM288.6 189l4 7h-8zM289 187l4 7h-8zM289.5 183.2l4 7h-8zM289.9 181.3l4 7h-8zM290.3 181.7l4 7h-8zM290.8 180.3l4 7h-8zM291.2 179.4l4 7h-8zM291.6 179.1l4 7h-8zM292 176.9l4 7h-8zM292.5 175.5l4 7h-8zM292.9 174.5l4 7h-8zM293.3 172.8l4 7h-8zM293.8 173.1l4 7h-8zM294.2 173.1l4 7h-8zM294.6 171.5l4 7h-8zM295.1 170.2l4 7h-8zM295.5 170l4 7h-8zM295.9 166.3l4 7h-8zM296.4 165.6l4 7h-8zM296.8 164.1l4 7h-8zM297.2 164.2l4 7h-8zM297.6 162.4l4 7h-8zM298.1 162.4l4 7h-8zM298.5 160.2l4 7h-8zM298.9 159.8l4 7h-8zM299.4 160.1l4 7h-8zM299.8 158.3l4 7h-8zM300.2 159.4l4 7h-8zM300.7 157.2l4 7h-8zM301.1 155l4 7h-8zM301.5 155l4 7h-8zM301.9 154.2l4 7h-8zM302.4 153.3l4 7h-8zM302.8 152.5l4 7h-8zM303.2 150.6l4 7h-8zM303.7 150.8l4 7h-8zM304.1 149.1l4 7h-8zM304.5 149l4 7h-8zM305 148.6l4 7h-8zM305.4 147l4 7h-8zM305.8 147.3l4 7h-8zM306.3 146.5l4 7h-8zM306.7 144.1l4 7h-8zM307.1 144.5l4 7h-8zM307.5 144.1l4 7h-8zM308 142.2l4 7h-8zM308.4 141.2l4 7h-8zM308.8 140.9l4 7h-8zM309.3 140l4 7h-8zM309.7 139.5l4 7h-8zM310.1 139.3l4 7h-8zM310.6 138.9l4 7h-8zM311 137.5l4 7h-8zM311.4 136l4 7h-8zM311.9 136.8l4 7h-8zM312.3 135.4l4 7h-8zM312.7 135.4l4 7h-8zM313.1 134.9l4 7h-8zM313.6 134.3l4 7h-8zM314 133.3l4 7h-8zM314.4 132l4 7h-8zM314.9 133l4 7h-8zM315.3 131.9l4 7h-8zM315.7 131.3l4 7h-8zM316.2 129.7l4 7h-8zM316.6 130.1l4 7h-8zM317 129.2l4 7h-8zM317.4 128.9l4 7h-8zM317.9 127.9l4 7h-8zM318.3 127.7l4 7h-8zM318.7 126.3l4 7h-8zM319.2 126.4l4 7h-8zM319.6 125.5l4 7h-8zM320 125.1l4 7h-8zM320.5 124.6l4 7h-8zM320.9 123.5l4 7h-8zM321.3 123.1l4 7h-8zM321.8 123.2l4 7h-8zM322.2 121.9l4 7h-8zM322.6 122.2l4 7h-8zM323 121.5l4 7h-8zM323.5 120.6l4 7h-8zM323.9 120.5l4 7h-8zM324.3 120.1l4 7h-8zM324.8 120l4 7h-8zM325.2 118.1l4 7h-8zM325.6 118.5l4 7h-8zM326.1 118.2l4 7h-8zM326.5 118.9l4 7h-8zM326.9 117.8l4 7h-8zM327.4 117.1l4 7h-8zM327.8 116.7l4 7h-8zM328.2 116.9l4 7h-8zM328.6 116l4 7h-8zM329.1 116.9l4 7h-8zM329.5 115.9l4 7h-8zM329.9 116l4 7h-8zM330.4 114.8l4 7h-8zM330.8 114.1l4 7h-8zM331.2 114.8l4 7h-8zM331.7 114.3l4 7h-8zM332.1 113.7l4 7h-8zM332.5 113.3l4 7h-8zM332.9 113.2l4 7h-8zM333.4 112.2l4 7h-8zM333.8 112.1l4 7h-8zM334.2 112.9l4 7h-8zM334.7 111.7l4 7h-8zM335.1 111.4l4 7h-8zM335.5 111.1l4 7h-8zM336 110.9l4 7h-8zM336.4 110.9l4 7h-8zM336.8 110.3l4 7h-8zM337.3 110.5l4 7h-8zM337.7 110.2l4 7h-8zM338.1 108.8l4 7h-8zM338.5 108.6l4 7h-8zM339 108.3l4 7h-8zM339.4 108.7l4 7h-8zM339.8 109.4l4 7h-8zM340.3 108.2l4 7h-8zM340.7 107.3l4 7h-8zM341.1 107.7l4 7h-8zM341.6 108.2l4 7h-8zM342 107.1l4 7h-8zM342.4 106.7l4 7h-8zM342.9 107l4 7h-8zM343.3 105.8l4 7h-8zM343.7 106.5l4 7h-8zM344.1 106l4 7h-8zM344.6 106.1l4 7h-8zM345 105.2l4 7h-8zM345.4 105.2l4 7h-8zM345.9 104.7l4 7h-8zM346.3 104.9l4 7h-8zM346.7 104.8l4 7h-8zM347.2 104.9l4 7h-8zM347.6 105.3l4 7h-8zM348 104.7l4 7h-8zM348.4 103.8l4 7h-8zM348.9 103.4l4 7h-8zM349.3 104.3l4 7h-8zM349.7 103.3l4 7h-8zM350.2 103.8l4 7h-8zM350.6 103.7l4 7h-8zM351 102.8l4 7h-8zM351.5 102.7l4 7h-8zM351.9 102.3l4 7h-8zM352.3 102.2l4 7h-8zM352.8 101.9l4 7h-8zM353.2 101.8l4 7h-8zM353.6 102.3l4 7h-8zM354 101.7l4 7h-8zM354.5 101.7l4 7h-8zM354.9 101.2l4 7h-8zM355.3 100.6l4 7h-8zM355.8 101.6l4 7h-8zM356.2 100l4 7h-8zM356.6 100.4l4 7h-8zM357.1 101l4 7h-8zM357.5 99.9l4 7h-8zM357.9 100.7l4 7h-8zM358.3 100.8l4 7h-8zM358.8 99.7l4 7h-8zM359.2 99.9l4 7h-8zM359.6 99.5l4 7h-8zM360.1 99.8l4 7h-8zM360.5 99.6l4 7h-8zM360.9 99.6l4 7h-8zM361.4 99.9l4 7h-8zM361.8 99.5l4 7h-8zM362.2 99.6l4 7h-8zM362.7 99.2l4 7h-8zM363.1 98.3l4 7h-8zM363.5 98.7l4 7h-8zM363.9 98.8l4 7h-8zM364.4 97.8l4 7h-8zM364.8 99l4 7h-8zM365.2 98.2l4 7h-8zM365.7 98.3l4 7h-8zM366.1 97.6l4 7h-8zM366.5 97.9l4 7h-8zM367 97.8l4 7h-8zM367.4 97.6l4 7h-8zM367.8 97.6l4 7h-8zM368.3 96.5l4 7h-8zM368.7 97.8l4 7h-8zM369.1 96.6l4 7h-8zM369.5 96l4 7h-8zM370 96.4l4 7h-8zM370.4 96.4l4 7h-8zM370.8 96.9l4 7h-8zM371.3 96.3l4 7h-8zM371.7 96.7l4 7h-8zM372.1 96l4 7h-8zM372.6 97.2l4 7h-8zM373 96.4l4 7h-8zM373.4 96.9l4 7h-8zM373.8 95.5l4 7h-8zM374.3 96.1l4 7h-8zM374.7 95.3l4 7h-8zM375.1 95.9l4 7h-8zM375.6 95.8l4 7h-8zM376 94.8l4 7h-8zM376.4 94.9l4 7h-8zM376.9 94.7l4 7h-8zM377.3 94.5l4 7h-8zM377.7 94.8l4 7h-8zM378.2 94.6l4 7h-8zM378.6 94.1l4 7h-8zM379 94.9l4 7h-8zM379.4 94.9l4 7h-8zM379.9 94l4 7h-8zM380.3 94.3l4 7h-8zM380.7 94.4l4 7h-8zM381.2 94.1l4 7h-8zM381.6 93.9l4 7h-8zM382 94.4l4 7h-8zM382.5 94.4l4 7h-8zM382.9 94.2l4 7h-8zM383.3 93.7l4 7h-8zM383.8 94.6l4 7h-8zM384.2 94.5l4 7h-8zM384.6 93.5l4 7h-8zM385 93.4l4 7h-8zM385.5 93.9l4 7h-8zM385.9 93l4 7h-8zM386.3 93.6l4 7h-8zM386.8 93.2l4 7h-8zM387.2 92.7l4 7h-8zM387.6 92.9l4 7h-8zM388.1 92.4l4 7h-8zM388.5 92.7l4 7h-8zM388.9 92l4 7h-8zM389.3 93.8l4 7h-8zM389.8 93.3l4 7h-8zM390.2 93.2l4 7h-8zM390.6 92.6l4 7h-8zM391.1 92.8l4 7h-8zM391.5 93l4 7h-8zM391.9 92.7l4 7h-8zM392.4 92.7l4 7h-8zM392.8 91.9l4 7h-8zM393.2 92.3l4 7h-8zM393.7 91.8l4 7h-8zM394.1 91.4l4 7h-8zM394.5 91.5l4 7h-8zM394.9 92l4 7h-8zM395.4 92.1l4 7h-8zM395.8 91.1l4 7h-8zM396.2 92.3l4 7h-8zM396.7 92.2l4 7h-8zM397.1 91.4l4 7h-8zM397.5 91.2l4 7h-8zM398 91.3l4 7h-8zM398.4 91.6l4 7h-8zM398.8 90.9l4 7h-8zM399.3 90.6l4 7h-8zM399.7 91.2l4 7h-8zM400.1 90l4 7h-8zM400.5 91l4 7h-8zM401 91.4l4 7h-8zM401.4 90.9l4 7h-8zM401.8 91.1l4 7h-8zM402.3 90.8l4 7h-8zM402.7 90.9l4 7h-8zM403.1 90.5l4 7h-8zM403.6 90l4 7h-8zM404 90.2l4 7h-8zM404.4 90.3l4 7h-8zM404.8 90.7l4 7h-8zM405.3 90.8l4 7h-8zM405.7 90.3l4 7h-8zM406.1 89.7l4 7h-8zM406.6 89.6l4 7h-8zM407 89.8l4 7h-8zM407.4 90.3l4 7h-8zM407.9 89.8l4 7h-8zM408.3 89.7l4 7h-8zM408.7 89.3l4 7h-8zM409.2 90l4 7h-8zM409.6 89.6l4 7h-8zM410 89.4l4 7h-8zM410.4 89.4l4 7h-8zM410.9 90l4 7h-8zM411.3 89.1l4 7h-8zM411.7 89.9l4 7h-8zM412.2 89.7l4 7h-8zM412.6 89l4 7h-8zM413 89.4l4 7h-8zM413.5 88.8l4 7h-8zM413.9 88.5l4 7h-8zM414.3 88.6l4 7h-8zM414.8 88.3l4 7h-8zM415.2 88.9l4 7h-8zM415.6 88.5l4 7h-8zM416 88.8l4 7h-8zM416.5 88.8l4 7h-8zM416.9 87.1l4 7h-8zM417.3 88.5l4 7h-8zM417.8 87.5l4 7h-8zM418.2 88.3l4 7h-8zM418.6 87.7l4 7h-8zM419.1 88.2l4 7h-8zM419.5 88.6l4 7h-8zM419.9 87.3l4 7h-8zM420.3 87.9l4 7h-8zM420.8 87.8l4 7h-8zM421.2 87l4 7h-8zM421.6 88l4 7h-8zM422.1 87.7l4 7h-8zM422.5 87.4l4 7h-8zM422.9 87.3l4 7h-8zM423.4 88.8l4 7h-8zM423.8 87.3l4 7h-8zM424.2 86.6l4 7h-8zM424.7 86.9l4 7h-8zM425.1 87.1l4 7h-8zM425.5 87l4 7h-8zM425.9 87.2l4 7h-8zM426.4 86.7l4 7h-8zM426.8 87.3l4 7h-8zM427.2 86.7l4 7h-8zM427.7 86.3l4 7h-8zM428.1 86.5l4 7h-8zM428.5 86.6l4 7h-8zM429 87l4 7h-8zM429.4 86.8l4 7h-8zM429.8 86.4l4 7h-8zM430.3 86.5l4 7h-8zM430.7 86.4l4 7h-8zM431.1 87.3l4 7h-8zM431.5 86l4 7h-8zM432 86.3l4 7h-8zM432.4 86.4l4 7h-8zM432.8 85.7l4 7h-8zM433.3 86l4 7h-8zM433.7 85.9l4 7h-8zM434.1 85.5l4 7h-8zM434.6 86l4 7h-8zM435 86l4 7h-8zM435.4 86l4 7h-8zM435.8 85.3l4 7h-8zM436.3 85.4l4 7h-8zM436.7 86.3l4 7h-8zM437.1 84.9l4 7h-8zM437.6 85.2l4 7h-8zM438 85.4l4 7h-8zM438.4 85l4 7h-8zM438.9 85.2l4 7h-8zM439.3 84.8l4 7h-8zM439.7 85.1l4 7h-8zM440.2 85.2l4 7h-8zM440.6 84.6l4 7h-8zM441 84.6l4 7h-8zM441.4 84.4l4 7h-8zM441.9 84.1l4 7h-8zM442.3 84.4l4 7h-8zM442.7 83.8l4 7h-8zM443.2 84.6l4 7h-8zM443.6 84.8l4 7h-8zM444 84.8l4 7h-8zM444.5 84.5l4 7h-8zM444.9 83.5l4 7h-8zM445.3 84.5l4 7h-8zM445.7 83.4l4 7h-8zM446.2 83.6l4 7h-8zM446.6 84.3l4 7h-8zM447 83l4 7h-8zM447.5 83.8l4 7h-8zM447.9 83.6l4 7h-8zM448.3 83.2l4 7h-8zM448.8 82.9l4 7h-8zM449.2 83.3l4 7h-8zM449.6 83l4 7h-8zM450.1 83.6l4 7h-8zM450.5 83.6l4 7h-8zM450.9 82.4l4 7h-8zM451.3 82.6l4 7h-8zM451.8 82.6l4 7h-8zM452.2 82.2l4 7h-8zM452.6 82.2l4 7h-8zM453.1 82.6l4 7h-8zM453.5 82.4l4 7h-8zM453.9 81.7l4 7h-8zM454.4 82.1l4 7h-8zM454.8 82.6l4 7h-8zM455.2 81.7l4 7h-8zM455.7 81.7l4 7h-8zM456.1 82.8l4 7h-8zM456.5 82.6l4 7h-8zM456.9 81.3l4 7h-8zM457.4 81.4l4 7h-8zM457.8 81.9l4 7h-8zM458.2 81.3l4 7h-8zM458.7 81.6l4 7h-8zM459.1 81.6l4 7h-8zM459.5 81.8l4 7h-8zM460 80.5l4 7h-8zM460.4 80.6l4 7h-8zM460.8 80.8l4 7h-8zM461.2 81.7l4 7h-8zM461.7 81.3l4 7h-8zM462.1 80.4l4 7h-8zM462.5 81.3l4 7h-8zM463 81.4l4 7h-8zM463.4 80.8l4 7h-8zM463.8 80.8l4 7h-8zM464.3 81.1l4 7h-8zM464.7 81.3l4 7h-8zM465.1 80.8l4 7h-8zM465.6 80.8l4 7h-8zM466 80.6l4 7h-8zM466.4 80.4l4 7h-8zM466.8 80.1l4 7h-8zM467.3 80.5l4 7h-8zM467.7 80.2l4 7h-8zM468.1 80.1l4 7h-8zM468.6 80.6l4 7h-8zM469 80.4l4 7h-8zM469.4 80.4l4 7h-8zM469.9 79.3l4 7h-8zM470.3 80.2l4 7h-8zM470.7 79.6l4 7h-8zM471.2 79.4l4 7h-8zM471.6 79.4l4 7h-8zM472 80.2l4 7h-8zM472.4 79.9l4 7h-8zM472.9 79.3l4 7h-8zM473.3 79.1l4 7h-8zM473.7 79.5l4 7h-8zM474.2 79.2l4 7h-8zM474.6 80l4 7h-8zM475 78.7l4 7h-8zM475.5 78.5l4 7h-8zM475.9 79.1l4 7h-8zM476.3 79.1l4 7h-8zM476.7 79.2l4 7h-8zM477.2 79.4l4 7h-8zM477.6 79.9l4 7h-8zM478 78.8l4 7h-8zM478.5 78.7l4 7h-8zM478.9 78.2l4 7h-8zM479.3 79l4 7h-8zM479.8 79.2l4 7h-8zM480.2 78.6l4 7h-8zM480.6 79.2l4 7h-8zM481.1 78.7l4 7h-8zM481.5 79.3l4 7h-8zM481.9 78.7l4 7h-8zM482.3 78.1l4 7h-8zM482.8 78.3l4 7h-8zM483.2 77.8l4 7h-8zM483.6 77.7l4 7h-8zM484.1 78.5l4 7h-8zM484.5 78.7l4 7h-8zM484.9 79.1l4 7h-8zM485.4 78.3l4 7h-8zM485.8 78.1l4 7h-8zM486.2 77.7l4 7h-8zM486.7 78.5l4 7h-8zM487.1 78.2l4 7h-8zM487.5 77.7l4 7h-8zM487.9 78.2l4 7h-8zM488.4 78.1l4 7h-8zM488.8 77l4 7h-8zM489.2 78.1l4 7h-8zM489.7 77.8l4 7h-8zM490.1 77.5l4 7h-8zM490.5 77.4l4 7h-8zM491 78.3l4 7h-8zM491.4 78.2l4 7h-8zM491.8 78.2l4 7h-8zM492.2 76.9l4 7h-8zM492.7 77.1l4 7h-8zM493.1 77.7l4 7h-8zM493.5 76.7l4 7h-8zM494 76.9l4 7h-8zM494.4 76.3l4 7h-8zM494.8 77.9l4 7h-8zM495.3 77.5l4 7h-8zM495.7 77.1l4 7h-8zM496.1 77l4 7h-8zM496.6 76.7l4 7h-8zM497 76.5l4 7h-8zM497.4 76.9l4 7h-8zM497.8 76.3l4 7h-8zM498.3 77.1l4 7h-8zM498.7 76.4l4 7h-8zM499.1 76.1l4 7h-8zM499.6 77l4 7h-8zM500 76.3l4 7h-8zM500.4 76.6l4 7h-8zM500.9 76.1l4 7h-8zM501.3 75.2l4 7h-8zM501.7 76.3l4 7h-8zM502.2 75.4l4 7h-8zM502.6 76.4l4 7h-8zM503 75.4l4 7h-8zM503.4 75.2l4 7h-8zM503.9 76l4 7h-8zM504.3 76l4 7h-8zM504.7 75.8l4 7h-8zM505.2 75.2l4 7h-8zM505.6 76l4 7h-8zM506 75l4 7h-8zM506.5 75.4l4 7h-8zM506.9 75.2l4 7h-8zM507.3 75.3l4 7h-8zM507.7 75.8l4 7h-8zM508.2 75l4 7h-8zM508.6 75.6l4 7h-8zM509 75.5l4 7h-8zM509.5 74.4l4 7h-8zM509.9 74.7l4 7h-8zM510.3 74.9l4 7h-8zM510.8 74.8l4 7h-8zM511.2 75.1l4 7h-8zM511.6 74.1l4 7h-8zM512.1 75.2l4 7h-8zM512.5 75.1l4 7h-8zM512.9 74.7l4 7h-8zM513.3 74.2l4 7h-8zM513.8 74.7l4 7h-8zM514.2 74.5l4 7h-8zM514.6 74.9l4 7h-8zM515.1 74.6l4 7h-8zM515.5 74.8l4 7h-8zM515.9 74.3l4 7h-8zM516.4 75.1l4 7h-8zM516.8 73.3l4 7h-8zM517.2 73.9l4 7h-8zM517.7 74.5l4 7h-8zM518.1 73.6l4 7h-8zM518.5 74.6l4 7h-8zM518.9 73.6l4 7h-8zM519.4 74.2l4 7h-8zM519.8 73.7l4 7h-8zM520.2 73.8l4 7h-8zM520.7 74l4 7h-8zM521.1 73.7l4 7h-8zM521.5 73.6l4 7h-8zM522 74.6l4 7h-8zM522.4 73.6l4 7h-8zM522.8 73.2l4 7h-8zM523.2 73.9l4 7h-8zM523.7 73.8l4 7h-8zM524.1 73.9l4 7h-8zM524.5 74l4 7h-8zM525 72.8l4 7h-8zM525.4 73.6l4 7h-8zM525.8 73.6l4 7h-8zM526.3 73l4 7h-8zM526.7 73.1l4 7h-8zM527.1 71.6l4 7h-8zM527.6 72.6l4 7h-8zM528 73.5l4 7h-8zM528.4 72l4 7h-8zM528.8 72.3l4 7h-8zM529.3 72.6l4 7h-8zM529.7 72.8l4 7h-8zM530.1 73.1l4 7h-8zM530.6 71.7l4 7h-8zM531 72.3l4 7h-8zM531.4 72.6l4 7h-8zM531.9 71.6l4 7h-8zM532.3 72.2l4 7h-8zM532.7 72.8l4 7h-8zM533.1 72.5l4 7h-8zM533.6 72.1l4 7h-8zM534 70.7l4 7h-8zM534.4 71.8l4 7h-8zM534.9 71.9l4 7h-8zM535.3 71.6l4 7h-8zM535.7 71.6l4 7h-8zM536.2 72.9l4 7h-8zM536.6 71.4l4 7h-8zM537 71.1l4 7h-8zM537.5 71.5l4 7h-8zM537.9 71.3l4 7h-8zM538.3 71.3l4 7h-8zM538.7 71.2l4 7h-8zM539.2 71.6l4 7h-8zM539.6 71.3l4 7h-8zM540 70.7l4 7h-8zM540.5 71l4 7h-8zM540.9 71.2l4 7h-8zM541.3 70.8l4 7h-8zM541.8 71.4l4 7h-8zM542.2 71.3l4 7h-8zM542.6 70.5l4 7h-8zM543.1 71l4 7h-8zM543.5 71.6l4 7h-8zM543.9 71.4l4 7h-8zM544.3 70.7l4 7h-8zM544.8 71l4 7h-8zM545.2 70.3l4 7h-8zM545.6 70l4 7h-8zM546.1 70.8l4 7h-8zM546.5 70.6l4 7h-8zM546.9 70.7l4 7h-8zM547.4 70.4l4 7h-8zM547.8 70.5l4 7h-8zM548.2 70.2l4 7h-8zM548.6 70.5l4 7h-8zM549.1 70.6l4 7h-8zM549.5 70.2l4 7h-8zM549.9 70.5l4 7h-8zM550.4 69.4l4 7h-8zM550.8 69.8l4 7h-8zM551.2 70.7l4 7h-8zM551.7 70.8l4 7h-8zM552.1 70.1l4 7h-8zM552.5 70l4 7h-8zM553 69.4l4 7h-8zM553.4 70.1l4 7h-8zM553.8 70.2l4 7h-8zM554.2 69.2l4 7h-8zM554.7 70.1l4 7h-8zM555.1 70.1l4 7h-8zM555.5 69.9l4 7h-8zM556 69.3l4 7h-8zM556.4 70l4 7h-8zM556.8 69.1l4 7h-8zM557.3 70.3l4 7h-8zM557.7 69.7l4 7h-8zM558.1 69.1l4 7h-8zM558.6 70.1l4 7h-8zM559 70l4 7h-8zM559.4 69.2l4 7h-8zM559.8 70.4l4 7h-8zM560.3 69l4 7h-8zM560.7 69.6l4 7h-8zM561.1 69.9l4 7h-8z" fill="#0000ff"/>
<path d="M88.4 352.1h.01M88.8 352.1h.01M89.3 353h.01M89.7 352.1h.01M90.1 352.7h.01M90.6 351.9h.01M91 351.9h.01M91.4 352.6h.01M91.8 352.4h.01M92.3 351.5h.01M92.7 352.4h.01M93.1 352.4h.01M93.6 352h.01M94 352.3h.01M94.4 352.3h.01M94.9 352h.01M95.3 352h.01M95.7 351.9h.01M96.1 352.1h.01M96.6 351.7h.01M97 352.2h.01M97.4 351.6h.01M97.9 352.2h.01M98.3 352.2h.01M98.7 351.8h.01M99.2 352.5h.01M99.6 352.9h.01M100 352.7h.01M100.5 351.7h.01M100.9 352.7h.01M101.3 352.3h.01M101.7 352.2h.01M102.2 352h.01M102.6 352.2h.01M103 352.7h.01M103.5 352.4h.01M103.9 352h.01M104.3 351.9h.01M104.8 352h.01M105.2 352.4h.01M105.6 352.9h.01M106.1 351.8h.01M106.5 352.2h.01M106.9 352h.01M107.3 351.9h.01M107.8 352.3h.01M108.2 352.4h.01M108.6 351.7h.01M109.1 351.8h.01M109.5 352.6h.01M109.9 352.3h.01M110.4 352.4h.01M110.8 352h.01M111.2 352h.01M111.6 352.4h.01M112.1 352h.01M112.5 351.8h.01M112.9 352.2h.01M113.4 352.5h.01M113.8 351.8h.01M114.2 352.6h.01M114.7 352.5h.01M115.1 351.9h.01M115.5 352.2h.01M116 352.2h.01M116.4 352.4h.01M116.8 352.4h.01M117.2 351.7h.01M117.7 351.7h.01M118.1 352.6h.01M118.5 352.2h.01M119 352.3h.01M119.4 352.3h.01M119.8 352.8h.01M120.3 351.7h.01M120.7 352.6h.01M121.1 351.9h.01M121.6 352.5h.01M122 352.7h.01M122.4 351.7h.01M122.8 352.3h.01M123.3 352.1h.01M123.7 352.1h.01M124.1 352.2h.01M124.6 351.8h.01M125 351.8h.01M125.4 352.4h.01M125.9 352.5h.01M126.3 352h.01M126.7 351.6h.01M127.1 353.1h.01M127.6 352.6h.01M128 352.3h.01M128.4 351.8h.01M128.9 352h.01M129.3 352.3h.01M129.7 351.8h.01M130.2 352.8h.01M130.6 352.2h.01M131 352.3h.01M131.5 351.8h.01M131.9 351.8h.01M132.3 351.9h.01M132.7 352.3h.01M133.2 352.1h.01M133.6 352.1h.01M134 352.3h.01M134.5 352.3h.01M134.9 352.7h.01M135.3 352.1h.01M135.8 351.8h.01M136.2 352.2h.01M136.6 352.7h.01M137.1 352h.01M137.5 352.2h.01M137.9 352.1h.01M138.3 352.3h.01M138.8 352.3h.01M139.2 351.9h.01M139.6 352.1h.01M140.1 352.5h.01M140.5 352.6h.01M140.9 352.5h.01M141.4 352.5h.01M141.8 352.1h.01M142.2 352.1h.01M142.6 352.5h.01M143.1 351.7h.01M143.5 352.2h.01M143.9 351.5h.01M144.4 352h.01M144.8 351.9h.01M145.2 351.7h.01M145.7 352.4h.01M146.1 351.9h.01M146.5 352.1h.01M147 352.1h.01M147.4 351.9h.01M147.8 352.7h.01M148.2 352h.01M148.7 352.3h.01M149.1 351.7h.01M149.5 352h.01M150 352.1h.01M150.4 352.1h.01M150.8 352h.01M151.3 352.2h.01M151.7 352.8h.01M152.1 352.1h.01M152.6 352.1h.01M153 352h.01M153.4 353.1h.01M153.8 352.8h.01M154.3 352.4h.01M154.7 352.5h.01M155.1 351.9h.01M155.6 352.1h.01M156 352.3h.01M156.4 352.2h.01M156.9 351.9h.01M157.3 351.9h.01M157.7 352.4h.01M158.1 352.3h.01M158.6 351.4h.01M159 352.2h.01M159.4 352.7h.01M159.9 351.9h.01M160.3 352.3h.01M160.7 351.6h.01M161.2 352.5h.01M161.6 351.8h.01M162 351.7h.01M162.5 352.1h.01M162.9 353.1h.01M163.3 352h.01M163.7 351.7h.01M164.2 352.4h.01M164.6 352.3h.01M165 352.8h.01M165.5 351.7h.01M165.9 351.6h.01M166.3 352.1h.01M166.8 352.3h.01M167.2 352.3h.01M167.6 352.6h.01M168.1 351.6h.01M168.5 351.9h.01M168.9 352.1h.01M169.3 352.5h.01M169.8 352.4h.01M170.2 352h.01M170.6 351.8h.01M171.1 352.5h.01M171.5 352.5h.01M171.9 353.2h.01M172.4 352.1h.01M172.8 352.8h.01M173.2 351.7h.01M173.6 352h.01M174.1 351.9h.01M174.5 352h.01M174.9 351.9h.01M175.4 352h.01M175.8 352.2h.01M176.2 352h.01M176.7 352.4h.01M177.1 352.2h.01M177.5 352.2h.01M178 352.7h.01M178.4 352.3h.01M178.8 352.2h.01M179.2 352.2h.01M179.7 352.2h.01M180.1 352.4h.01M180.5 351.9h.01M181 352.6h.01M181.4 352.8h.01M181.8 352.6h.01M182.3 352h.01M182.7 351.6h.01M183.1 352h.01M183.5 352.2h.01M184 352.5h.01M184.4 352.1h.01M184.8 352.1h.01M185.3 352.8h.01M185.7 351.9h.01M186.1 352.6h.01M186.6 352.5h.01M187 351.7h.01M187.4 352.3h.01M187.9 352h.01M188.3 351.8h.01M188.7 351.5h.01M189.1 351.6h.01M189.6 352.3h.01M190 352h.01M190.4 352.3h.01M190.9 351.8h.01M191.3 352.1h.01M191.7 352.1h.01M192.2 351.6h.01M192.6 351.6h.01M193 352.4h.01M193.5 352.2h.01M193.9 351.8h.01M194.3 352.2h.01M194.7 352.4h.01M195.2 352.9h.01M195.6 351.9h.01M196 352.4h.01M196.5 353h.01M196.9 352.2h.01M197.3 352.7h.01M197.8 351.2h.01M198.2 352.7h.01M198.6 352.2h.01M199 351.5h.01M199.5 352.5h.01M199.9 352.6h.01M200.3 352.6h.01M200.8 352.6h.01M201.2 352.2h.01M201.6 351.9h.01M202.1 352h.01M202.5 352.2h.01M202.9 352.3h.01M203.4 352h.01M203.8 352.2h.01M204.2 352.5h.01M204.6 352.3h.01M205.1 353h.01M205.5 353h.01M205.9 351.8h.01M206.4 352h.01M206.8 351.7h.01M207.2 351.8h.01M207.7 352.4h.01M208.1 351.8h.01M208.5 351.8h.01M209 352.1h.01M209.4 352.5h.01M209.8 352.1h.01M210.2 352.1h.01M210.7 352.5h.01M211.1 352.4h.01M211.5 352.4h.01M212 352.5h.01M212.4 351.8h.01M212.8 352.3h.01M213.3 352h.01M213.7 352.6h.01M214.1 352.5h.01M214.5 351.8h.01M215 352.7h.01M215.4 351.8h.01M215.8 352.6h.01M216.3 352.3h.01M216.7 351.9h.01M217.1 351.8h.01M217.6 352.1h.01M218 352.2h.01M218.4 351.9h.01M218.9 352.4h.01M219.3 351.7h.01M219.7 352.2h.01M220.1 352.2h.01M220.6 351.5h.01M221 352.3h.01M221.4 351.7h.01M221.9 351.3h.01M222.3 352h.01M222.7 352.1h.01M223.2 352.5h.01M223.6 352h.01M224 352.7h.01M224.5 352.7h.01M224.9 352.6h.01M225.3 352.7h.01M225.7 352.3h.01M226.2 352h.01M226.6 352.4h.01M227 352.5h.01M227.5 352.3h.01M227.9 352.1h.01M228.3 351.6h.01M228.8 352.4h.01M229.2 352.3h.01M229.6 351.7h.01M230 352.2h.01M230.5 352.4h.01M230.9 352.1h.01M231.3 352.5h.01M231.8 352.4h.01M232.2 351.6h.01M232.6 352h.01M233.1 352.3h.01M233.5 352.5h.01M233.9 352.7h.01M234.4 351.4h.01M234.8 352.1h.01M235.2 352.4h.01M235.6 352.6h.01M236.1 352.7h.01M236.5 351.7h.01M236.9 351.9h.01M237.4 351.6h.01M237.8 352.3h.01M238.2 351.5h.01M238.7 352.4h.01M239.1 352.3h.01M239.5 352.1h.01M240 351.1h.01M240.4 351.6h.01M240.8 352.1h.01M241.2 351.3h.01M241.7 351.7h.01M242.1 351.6h.01M242.5 352.1h.01M243 351.7h.01M243.4 351.7h.01M243.8 351.3h.01M244.3 351.5h.01M244.7 351.4h.01M245.1 351.5h.01M245.5 351.2h.01M246 351.6h.01M246.4 350.4h.01M246.8 351.4h.01M247.3 350.8h.01M247.7 351.2h.01M248.1 350.9h.01M248.6 350.9h.01M249 351h.01M249.4 349.9h.01M249.9 350.1h.01M250.3 349.9h.01M250.7 349.7h.01M251.1 349h.01M251.6 349.4h.01M252 349.1h.01M252.4 349h.01M252.9 348.5h.01M253.3 347.9h.01M253.7 348.9h.01M254.2 348.4h.01M254.6 348.4h.01M255 346.8h.01M255.5 346.9h.01M255.9 347.3h.01M256.3 345.9h.01M256.7 346.8h.01M257.2 346.3h.01M257.6 345.7h.01M258 345.6h.01M258.5 345.1h.01M258.9 345.5h.01M259.3 344.5h.01M259.8 343.6h.01M260.2 344.2h.01M260.6 343h.01M261 342.9h.01M261.5 342h.01M261.9 341.8h.01M262.3 342.3h.01M262.8 342.4h.01M263.2 341.4h.01M263.6 340.9h.01M264.1 340.5h.01M264.5 341.3h.01M264.9 339.2h.01M265.4 339.1h.01M265.8 339.7h.01M266.2 338.4h.01M266.6 338.6h.01M267.1 339h.01M267.5 337.9h.01M267.9 337.6h.01M268.4 337.5h.01M268.8 336.9h.01M269.2 336.5h.01M269.7 336.7h.01M270.1 336.2h.01M270.5 336.4h.01M270.9 334.7h.01M271.4 334.5h.01M271.8 335.3h.01M272.2 333.7h.01M272.7 333.6h.01M273.1 333.6h.01M273.5 333.3h.01M274 332.6h.01M274.4 332.2h.01M274.8 332.1h.01M275.3 331.5h.01M275.7 331.4h.01M276.1 331.3h.01M276.5 330.5h.01M277 331h.01M277.4 329.7h.01M277.8 329.5h.01M278.3 329.5h.01M278.7 328.2h.01M279.1 328.6h.01M279.6 328.4h.01M280 327.8h.01M280.4 327h.01M280.9 327.3h.01M281.3 326h.01M281.7 326.5h.01M282.1 325.5h.01M282.6 324.9h.01M283 324.5h.01M283.4 324.2h.01M283.9 323.9h.01M284.3 323.1h.01M284.7 323.3h.01M285.2 323.5h.01M285.6 322.4h.01M286 322.2h.01M286.4 321.9h.01M286.9 320.5h.01M287.3 320.6h.01M287.7 318.9h.01M288.2 319.6h.01M288.6 319.1h.01M289 317.7h.01M289.5 317.7h.01M289.9 317.7h.01M290.3 317.1h.01M290.8 316.1h.01M291.2 315.8h.01M291.6 314.4h.01M292 314.5h.01M292.5 314.7h.01M292.9 313h.01M293.3 314h.01M293.8 312.4h.01M294.2 311.7h.01M294.6 311.3h.01M295.1 310.3h.01M295.5 309.1h.01M295.9 309.7h.01M296.4 308.7h.01M296.8 308h.01M297.2 308.3h.01M297.6 307.2h.01M298.1 306.7h.01M298.5 305.6h.01M298.9 305.6h.01M299.4 304.7h.01M299.8 303.8h.01M300.2 302h.01M300.7 302.5h.01M301.1 301.5h.01M301.5 299.8h.01M301.9 299.7h.01M302.4 299.3h.01M302.8 298.8h.01M303.2 297.9h.01M303.7 296.4h.01M304.1 297.7h.01M304.5 295.6h.01M305 294.5h.01M305.4 292.7h.01M305.8 294.1h.01M306.3 292h.01M306.7 290.9h.01M307.1 290.4h.01M307.5 291.2h.01M308 288.3h.01M308.4 288.6h.01M308.8 285.1h.01M309.3 286h.01M309.7 283.6h.01M310.1 283.5h.01M310.6 283.5h.01M311 281.6h.01M311.4 282.3h.01M311.9 279.7h.01M312.3 277.4h.01M312.7 278h.01M313.1 276h.01M313.6 276.9h.01M314 274.3h.01M314.4 270.9h.01M314.9 273.5h.01M315.3 270.9h.01M315.7 269.7h.01M316.2 270.8h.01M316.6 269.8h.01M317 268.2h.01M317.4 265.9h.01M317.9 265.1h.01M318.3 264.2h.01M318.7 263.2h.01M319.2 262.3h.01M319.6 261.4h.01M320 261.5h.01M320.5 258.4h.01M320.9 259.2h.01M321.3 255.6h.01M321.8 256.3h.01M322.2 255.8h.01M322.6 252.8h.01M323 251.5h.01M323.5 254.1h.01M323.9 250.1h.01M324.3 250.9h.01M324.8 248.7h.01M325.2 245.7h.01M325.6 246.4h.01M326.1 243.9h.01M326.5 242.6h.01M326.9 240.2h.01M327.4 240h.01M327.8 240.4h.01M328.2 240.1h.01M328.6 237.7h.01M329.1 236.4h.01M329.5 234.5h.01M329.9 233h.01M330.4 232.4h.01M330.8 231.5h.01M331.2 229.7h.01M331.7 229h.01M332.1 228.1h.01M332.5 225.8h.01M332.9 225.1h.01M333.4 225.8h.01M333.8 225.2h.01M334.2 223.2h.01M334.7 221.1h.01M335.1 223h.01M335.5 219.9h.01M336 218.2h.01M336.4 217.9h.01M336.8 218.2h.01M337.3 213.7h.01M337.7 212.3h.01M338.1 213.5h.01M338.5 211.1h.01M339 210.2h.01M339.4 210.4h.01M339.8 207.5h.01M340.3 208.9h.01M340.7 207.4h.01M341.1 206.4h.01M341.6 205.4h.01M342 205.3h.01M342.4 203.9h.01M342.9 201.4h.01M343.3 200.7h.01M343.7 200.7h.01M344.1 198h.01M344.6 199.5h.01M345 196.5h.01M345.4 196.9h.01M345.9 195.6h.01M346.3 194.9h.01M346.7 193.7h.01M347.2 192.8h.01M347.6 192.7h.01M348 191.5h.01M348.4 190.1h.01M348.9 189.5h.01M349.3 188.5h.01M349.7 188.2h.01M350.2 188h.01M350.6 186.3h.01M351 185.4h.01M351.5 184.6h.01M351.9 183.9h.01M352.3 182.4h.01M352.8 183.4h.01M353.2 183.7h.01M353.6 181.1h.01M354 181.3h.01M354.5 180.1h.01M354.9 179.4h.01M355.3 177.9h.01M355.8 178.1h.01M356.2 176.8h.01M356.6 176h.01M357.1 175.9h.01M357.5 175.9h.01M357.9 173.8h.01M358.3 172.2h.01M358.8 172.5h.01M359.2 170.2h.01M359.6 172.2h.01M360.1 171h.01M360.5 170.5h.01M360.9 169.2h.01M361.4 168.5h.01M361.8 168.6h.01M362.2 166.4h.01M362.7 167.5h.01M363.1 166.1h.01M363.5 165.5h.01M363.9 164.9h.01M364.4 164.2h.01M364.8 162.6h.01M365.2 163h.01M365.7 162.3h.01M366.1 161.6h.01M366.5 161.6h.01M367 161h.01M367.4 159h.01M367.8 159.7h.01M368.3 158.4h.01M368.7 157.6h.01M369.1 156.4h.01M369.5 156.2h.01M370 155.1h.01M370.4 154.8h.01M370.8 154h.01M371.3 153.7h.01M371.7 152.2h.01M372.1 151.9h.01M372.6 150.6h.01M373 151.5h.01M373.4 150.5h.01M373.8 149.7h.01M374.3 150.4h.01M374.7 148.4h.01M375.1 148.5h.01M375.6 148h.01M376 147.2h.01M376.4 145.9h.01M376.9 145.4h.01M377.3 145.6h.01M377.7 143.2h.01M378.2 143.4h.01M378.6 143.3h.01M379 141.7h.01M379.4 142.5h.01M379.9 140.1h.01M380.3 141.8h.01M380.7 141.1h.01M381.2 140.2h.01M381.6 139.3h.01M382 139.5h.01M382.5 138.8h.01M382.9 138.1h.01M383.3 136.8h.01M383.8 137.2h.01M384.2 135.7h.01M384.6 136.1h.01M385 134h.01M385.5 135.2h.01M385.9 134.1h.01M386.3 134h.01M386.8 133.4h.01M387.2 132.7h.01M387.6 132.9h.01M388.1 131.8h.01M388.5 131.7h.01M388.9 131.8h.01M389.3 130.5h.01M389.8 130.6h.01M390.2 130.4h.01M390.6 128.5h.01M391.1 128.8h.01M391.5 128.7h.01M391.9 128.2h.01M392.4 128.1h.01M392.8 127.6h.01M393.2 127.5h.01M393.7 126.7h.01M394.1 126.4h.01M394.5 125.4h.01M394.9 125.7h.01M395.4 125.7h.01M395.8 125.8h.01M396.2 125h.01M396.7 124.8h.01M397.1 124h.01M397.5 123.6h.01M398 122.9h.01M398.4 123.8h.01M398.8 121.4h.01M399.3 123.1h.01M399.7 122h.01M400.1 121.5h.01M400.5 122.8h.01M401 121.8h.01M401.4 120.7h.01M401.8 120.2h.01M402.3 120.4h.01M402.7 119.3h.01M403.1 119.4h.01M403.6 119h.01M404 118.7h.01M404.4 118.6h.01M404.8 118.5h.01M405.3 118.1h.01M405.7 118h.01M406.1 116h.01M406.6 117.2h.01M407 117.1h.01M407.4 115.6h.01M407.9 116h.01M408.3 115.2h.01M408.7 114.9h.01M409.2 114.7h.01M409.6 114h.01M410 114h.01M410.4 113.8h.01M410.9 112.7h.01M411.3 113h.01M411.7 112.8h.01M412.2 112.2h.01M412.6 112.5h.01M413 111.5h.01M413.5 111.9h.01M413.9 111.6h.01M414.3 111h.01M414.8 110.3h.01M415.2 109.5h.01M415.6 110h.01M416 109.8h.01M416.5 110h.01M416.9 110.1h.01M417.3 108.4h.01M417.8 109.3h.01M418.2 109h.01M418.6 108h.01M419.1 108.2h.01M419.5 107.8h.01M419.9 106.7h.01M420.3 107.1h.01M420.8 106.8h.01M421.2 106h.01M421.6 106.6h.01M422.1 106.3h.01M422.5 105.3h.01M422.9 105.4h.01M423.4 105.6h.01M423.8 105.7h.01M424.2 105.2h.01M424.7 104.5h.01M425.1 104.8h.01M425.5 104.2h.01M425.9 104.5h.01M426.4 104.7h.01M426.8 103.3h.01M427.2 103.7h.01M427.7 103.1h.01M428.1 102.5h.01M428.5 103.5h.01M429 103.1h.01M429.4 101.9h.01M429.8 102.4h.01M430.3 102.2h.01M430.7 102.6h.01M431.1 101.6h.01M431.5 101.5h.01M432 101.7h.01M432.4 101.7h.01M432.8 101h.01M433.3 100.9h.01M433.7 100.8h.01M434.1 100.8h.01M434.6 100.1h.01M435 100.6h.01M435.4 100h.01M435.8 99.9h.01M436.3 100.3h.01M436.7 99.3h.01M437.1 99.4h.01M437.6 99.1h.01M438 99.4h.01M438.4 98.9h.01M438.9 98.8h.01M439.3 99h.01M439.7 98h.01M440.2 98.9h.01M440.6 98.1h.01M441 97.9h.01M441.4 97.5h.01M441.9 98.4h.01M442.3 98.1h.01M442.7 98.3h.01M443.2 97.4h.01M443.6 97h.01M444 96.8h.01M444.5 97.4h.01M444.9 97.5h.01M445.3 96.6h.01M445.7 95.9h.01M446.2 96.4h.01M446.6 96.2h.01M447 95.9h.01M447.5 95.3h.01M447.9 94.4h.01M448.3 95.3h.01M448.8 95.7h.01M449.2 95.2h.01M449.6 94.1h.01M450.1 95h.01M450.5 93.8h.01M450.9 95.5h.01M451.3 94.4h.01M451.8 93.8h.01M452.2 94.6h.01M452.6 93.8h.01M453.1 94.3h.01M453.5 93.9h.01M453.9 93.2h.01M454.4 93.9h.01M454.8 92.7h.01M455.2 94h.01M455.7 93.2h.01M456.1 92.7h.01M456.5 92h.01M456.9 93.5h.01M457.4 93.4h.01M457.8 92h.01M458.2 93.2h.01M458.7 92.5h.01M459.1 92h.01M459.5 92.1h.01M460 91.8h.01M460.4 92.5h.01M460.8 91.8h.01M461.2 90.9h.01M461.7 92.7h.01M462.1 91.9h.01M462.5 90.9h.01M463 91.1h.01M463.4 90.8h.01M463.8 91.2h.01M464.3 91.3h.01M464.7 91h.01M465.1 90.5h.01M465.6 90.4h.01M466 91h.01M466.4 90.4h.01M466.8 91.6h.01M467.3 90.1h.01M467.7 90.8h.01M468.1 90.2h.01M468.6 89.8h.01M469 90.7h.01M469.4 90.2h.01M469.9 89.5h.01M470.3 89.6h.01M470.7 90.2h.01M471.2 89.1h.01M471.6 90.2h.01M472 89.9h.01M472.4 89.3h.01M472.9 89.9h.01M473.3 90.1h.01M473.7 89.5h.01M474.2 89.1h.01M474.6 89.8h.01M475 89.6h.01M475.5 88.4h.01M475.9 88.6h.01M476.3 88.6h.01M476.7 88.4h.01M477.2 87.8h.01M477.6 88.7h.01M478 88.3h.01M478.5 88.3h.01M478.9 88.7h.01M479.3 87.7h.01M479.8 87.9h.01M480.2 88h.01M480.6 87.5h.01M481.1 87.5h.01M481.5 88h.01M481.9 87.5h.01M482.3 88.1h.01M482.8 87h.01M483.2 87.3h.01M483.6 86.5h.01M484.1 87.1h.01M484.5 86.7h.01M484.9 87.6h.01M485.4 87.3h.01M485.8 87h.01M486.2 87.5h.01M486.7 87.3h.01M487.1 86.8h.01M487.5 86h.01M487.9 85.7h.01M488.4 86.3h.01M488.8 85.9h.01M489.2 85.9h.01M489.7 85.9h.01M490.1 85.3h.01M490.5 86.5h.01M491 85.3h.01M491.4 85.4h.01M491.8 85.9h.01M492.2 84.8h.01M492.7 86h.01M493.1 85.9h.01M493.5 85.2h.01M494 84.8h.01M494.4 84.9h.01M494.8 84.3h.01M495.3 85.7h.01M495.7 85.1h.01M496.1 84.5h.01M496.6 84.5h.01M497 85h.01M497.4 85.3h.01M497.8 84h.01M498.3 84.2h.01M498.7 83.8h.01M499.1 84.7h.01M499.6 84.5h.01M500 85.3h.01M500.4 84.1h.01M500.9 83.9h.01M501.3 83.6h.01M501.7 84.3h.01M502.2 83.2h.01M502.6 84.2h.01M503 83.9h.01M503.4 83.4h.01M503.9 83h.01M504.3 84.1h.01M504.7 84.3h.01M505.2 83.2h.01M505.6 83.5h.01M506 84h.01M506.5 82.9h.01M506.9 83.1h.01M507.3 82.5h.01M507.7 82.8h.01M508.2 82.8h.01M508.6 82.6h.01M509 82.4h.01M509.5 82h.01M509.9 81.9h.01M510.3 82h.01M510.8 82.8h.01M511.2 82.1h.01M511.6 81.9h.01M512.1 82.5h.01M512.5 82.4h.01M512.9 81.7h.01M513.3 81.8h.01M513.8 82.2h.01M514.2 82h.01M514.6 81.4h.01M515.1 81.8h.01M515.5 81.6h.01M515.9 82h.01M516.4 81h.01M516.8 81.8h.01M517.2 81.6h.01M517.7 80.8h.01M518.1 81.6h.01M518.5 81.5h.01M518.9 80.4h.01M519.4 81.8h.01M519.8 80.2h.01M520.2 80.3h.01M520.7 80.4h.01M521.1 81h.01M521.5 80.7h.01M522 80.3h.01M522.4 80.9h.01M522.8 80.5h.01M523.2 80.8h.01M523.7 81.4h.01M524.1 79.9h.01M524.5 78.5h.01M525 79.4h.01M525.4 79h.01M525.8 79.6h.01M526.3 79.4h.01M526.7 78.7h.01M527.1 78.6h.01M527.6 79.1h.01M528 79h.01M528.4 77.6h.01M528.8 79.1h.01M529.3 78.7h.01M529.7 78.4h.01M530.1 78.4h.01M530.6 78h.01M531 78.3h.01M531.4 78.8h.01M531.9 78.6h.01M532.3 78.3h.01M532.7 77.8h.01M533.1 77.4h.01M533.6 78.3h.01M534 77.9h.01M534.4 77.4h.01M534.9 76.4h.01M535.3 77h.01M535.7 76.3h.01M536.2 77.8h.01M536.6 77.2h.01M537 76.8h.01M537.5 76.8h.01M537.9 78h.01M538.3 77.4h.01M538.7 76.2h.01M539.2 76.5h.01M539.6 76h.01M540 75.9h.01M540.5 76.6h.01M540.9 77.5h.01M541.3 77h.01M541.8 76.2h.01M542.2 76h.01M542.6 76.2h.01M543.1 76.6h.01M543.5 75.3h.01M543.9 75h.01M544.3 76.7h.01M544.8 76h.01M545.2 76.5h.01M545.6 75.7h.01M546.1 76.4h.01M546.5 75.3h.01M546.9 75.7h.01M547.4 76.1h.01M547.8 75.8h.01M548.2 75.2h.01M548.6 75.6h.01M549.1 74.9h.01M549.5 74.3h.01M549.9 75.3h.01M550.4 75.6h.01M550.8 75.3h.01M551.2 74.2h.01M551.7 75.1h.01M552.1 75h.01M552.5 74.4h.01M553 73.3h.01M553.4 75h.01M553.8 74.8h.01M554.2 74.6h.01M554.7 73.5h.01M555.1 73.6h.01M555.5 74.7h.01M556 74.6h.01M556.4 74.3h.01M556.8 73.9h.01M557.3 74.2h.01M557.7 73.6h.01M558.1 73.8h.01M558.6 73.4h.01M559 73.8h.01M559.4 73.4h.01M559.8 74.1h.01M560.3 73.9h.01M560.7 73.2h.01M561.1 74.4h.01M561.6 72.9h.01M562 73.6h.01M562.4 73.8h.01M562.9 73.9h.01M563.3 72h.01M563.7 73.7h.01M564.1 73.6h.01M564.6 73.8h.01M565 71.8h.01M565.4 72.6h.01M565.9 72.8h.01M566.3 72.6h.01M566.7 73.4h.01M567.2 72.3h.01M567.6 73.2h.01M568 72.9h.01M568.5 71.8h.01M568.9 72h.01M569.3 72.2h.01M569.7 72.3h.01M570.2 72.9h.01M570.6 72.2h.01M571 72.7h.01M571.5 71.4h.01M571.9 70.6h.01M572.3 71.7h.01M572.8 72.2h.01M573.2 71.7h.01M573.6 71.4h.01M574.1 72.1h.01M574.5 72.7h.01M574.9 71.6h.01M575.3 71.3h.01M575.8 71.2h.01M576.2 72.6h.01M576.6 71.6h.01M577.1 71.8h.01M577.5 72h.01M577.9 71.9h.01M578.4 70.9h.01M578.8 71.8h.01M579.2 71.7h.01M579.6 71.4h.01M580.1 71.6h.01M580.5 70.8h.01M580.9 71h.01M581.4 70.8h.01M581.8 71.4h.01M582.2 70.5h.01M582.7 71.1h.01M583.1 70.2h.01M583.5 70.7h.01M584 70.5h.01M584.4 70.5h.01M584.8 70.7h.01M585.2 70.5h.01M585.7 70.4h.01M586.1 69.4h.01M586.5 70.8h.01M587 70.1h.01M587.4 70.1h.01M587.8 69.8h.01M588.3 70.6h.01M588.7 69.6h.01M589.1 70.4h.01M589.6 70.5h.01M590 70.8h.01M590.4 70.4h.01M590.8 70.2h.01M591.3 69.2h.01M591.7 70.4h.01M592.1 70.2h.01M592.6 70h.01M593 70h.01M593.4 69.5h.01M593.9 69.2h.01M594.3 69.9h.01M594.7 70h.01M595.1 68.8h.01M595.6 69.7h.01M596 69.3h.01M596.4 69.6h.01M596.9 69.3h.01M597.3 69.7h.01M597.7 69.5h.01M598.2 69.5h.01M598.6 68.3h.01M599 69.3h.01M599.5 68.9h.01M599.9 68.4h.01M600.3 69.1h.01M600.7 68.1h.01M601.2 69.2h.01M601.6 69.6h.01M602 68.4h.01M602.5 69.1h.01M602.9 68.9h.01M603.3 68.9h.01M603.8 67.8h.01M604.2 68.9h.01" fill="none" stroke="#ff0000" stroke-width="6.9" stroke-linecap="round"/>
<g stroke="#000" stroke-width="1" fill="#000">
<path d="M90.6 319v16" fill="none"/>
<path d="M87 334h7.2l-3.6 12.8z" stroke="none"/>
<path d="M101.1 319v16" fill="none"/>
<path d="M97.5 334h7.2l-3.6 12.8z" stroke="none"/>
<path d="M119.6 319v16" fill="none"/>
<path d="M116 334h7.2l-3.6 12.8z" stroke="none"/>
<path d="M159 319v16" fill="none"/>
<path d="M155.4 334h7.2l-3.6 12.8z" stroke="none"/>
<path d="M198.2 319v16" fill="none"/>
<path d="M194.6 334h7.2l-3.6 12.8z" stroke="none"/>
<path d="M232.6 319v16" fill="none"/>
<path d="M229 334h7.2l-3.6 12.8z" stroke="none"/>
<path d="M88.6 321.5h3.4M91.4 319v2.5" fill="none"/>
</g>
<g font-family="'Liberation Sans', sans-serif" fill="#000" stroke="#000" stroke-width="0.3">
<g font-size="17.9" text-anchor="end">
<text x="76.9" y="359">0</text>
<text x="76.9" y="295.6">2</text>
<text x="76.9" y="232.2">4</text>
<text x="76.9" y="168.8">6</text>
<text x="76.9" y="105.4">8</text>
<text x="76.9" y="42">10</text>
</g>
<g font-size="17.9" text-anchor="middle">
<text x="87.9" y="377.8">0</text>
<text x="174" y="377.8">0.2</text>
<text x="260.1" y="377.8">0.4</text>
<text x="346.2" y="377.8">0.6</text>
<text x="432.3" y="377.8">0.8</text>
<text x="519.4" y="377.8">1</text>
<text x="605.6" y="377.8">1.2</text>
</g>
<text x="273" y="405.3" font-size="18.1" xml:space="preserve">Magnetic field  <tspan dx="2.1" font-size="18.6">[T]</tspan></text>
<text transform="translate(45.9 274.4) rotate(-90) scale(0.9655 1)" font-size="18.2">Resistance</text>
<text transform="translate(45.5 177.0) rotate(-90) scale(0.9655 1)" font-size="18.2">[10</text>
<text transform="translate(36.4 152.0) rotate(-90) scale(0.9655 1)" font-size="12.3">-5</text>
<text transform="translate(45.4 133.7) rotate(-90) scale(0.78 1)" font-size="20.2" font-family="'Liberation Serif', serif">Ω</text>
<text transform="translate(45.4 119.3) rotate(-90) scale(0.9655 1)" font-size="18.2">]</text>
<g font-size="19.7">
<text x="492.4" y="224.8" xml:space="preserve"><tspan font-style="italic">T</tspan> = 2 K</text>
<text x="492.4" y="243.8" xml:space="preserve"><tspan font-style="italic">T</tspan> = 3 K</text>
<text x="492.4" y="263.2" xml:space="preserve"><tspan font-style="italic">T</tspan> = 4 K</text>
<text x="492.4" y="282.6" xml:space="preserve"><tspan font-style="italic">T</tspan> = 5 K</text>
<text x="492.4" y="302" xml:space="preserve"><tspan font-style="italic">T</tspan> = 5.5 K</text>
<text x="492.4" y="321.4" xml:space="preserve"><tspan font-style="italic">T</tspan> = 6 K</text>
</g>
</g>
<circle cx="470.8" cy="217.4" r="3.8" fill="#ff0000"/>
<path d="M470.8 232.2l4 7h-8z" fill="#0000ff"/>
<rect x="467.1" y="252.3" width="7.4" height="7" fill="#800000"/>
<path d="M470.8 279.4l4 -7h-8z" fill="#008000"/>
<path d="M467.9 294.6a2.95 2.3 0 1 0 5.9 0a2.95 2.3 0 1 0 -5.9 0" fill="none" stroke="#ff8000" stroke-width="2"/>
<path d="M470.8 311.4l3.1 5.3h-6.2z" fill="none" stroke="#808000" stroke-width="1.8" stroke-linejoin="round"/>
</svg>
</body></html>
